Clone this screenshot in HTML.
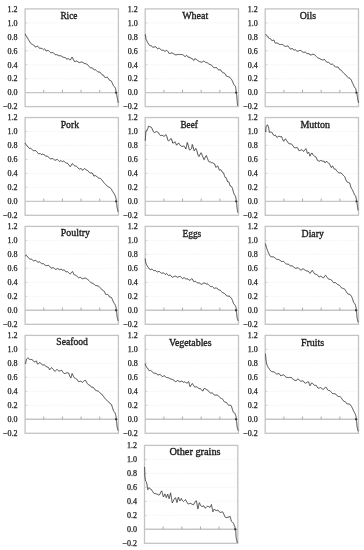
<!DOCTYPE html>
<html><head><meta charset="utf-8"><style>
html,body{margin:0;padding:0;background:#fff;width:364px;height:550px;overflow:hidden}
svg{display:block}
.t{font-family:"Liberation Serif",serif;font-size:8px;fill:#1e1e1e;stroke:#1e1e1e;stroke-width:0.25px}
.h{font-family:"Liberation Serif",serif;font-size:9.5px;fill:#1e1e1e;stroke:#1e1e1e;stroke-width:0.35px}
</style></head><body>
<svg width="364" height="550" viewBox="0 0 364 550">
<rect width="364" height="550" fill="#fff"/>
<line x1="28.10" y1="22.86" x2="117.40" y2="22.86" stroke="#f3f3f3" stroke-width="0.9" stroke-dasharray="1.2 0.9"/>
<line x1="25.10" y1="22.86" x2="27.30" y2="22.86" stroke="#c4c4c4" stroke-width="0.8"/>
<line x1="28.10" y1="36.81" x2="117.40" y2="36.81" stroke="#f3f3f3" stroke-width="0.9" stroke-dasharray="1.2 0.9"/>
<line x1="25.10" y1="36.81" x2="27.30" y2="36.81" stroke="#c4c4c4" stroke-width="0.8"/>
<line x1="28.10" y1="50.77" x2="117.40" y2="50.77" stroke="#f3f3f3" stroke-width="0.9" stroke-dasharray="1.2 0.9"/>
<line x1="25.10" y1="50.77" x2="27.30" y2="50.77" stroke="#c4c4c4" stroke-width="0.8"/>
<line x1="28.10" y1="64.73" x2="117.40" y2="64.73" stroke="#f3f3f3" stroke-width="0.9" stroke-dasharray="1.2 0.9"/>
<line x1="25.10" y1="64.73" x2="27.30" y2="64.73" stroke="#c4c4c4" stroke-width="0.8"/>
<line x1="28.10" y1="78.69" x2="117.40" y2="78.69" stroke="#f3f3f3" stroke-width="0.9" stroke-dasharray="1.2 0.9"/>
<line x1="25.10" y1="78.69" x2="27.30" y2="78.69" stroke="#c4c4c4" stroke-width="0.8"/>
<line x1="25.10" y1="92.64" x2="118.40" y2="92.64" stroke="#c6c6c6" stroke-width="1.4"/>
<line x1="43.76" y1="89.84" x2="43.76" y2="92.64" stroke="#a4a4a4" stroke-width="0.9"/>
<line x1="62.42" y1="89.84" x2="62.42" y2="92.64" stroke="#a4a4a4" stroke-width="0.9"/>
<line x1="81.08" y1="89.84" x2="81.08" y2="92.64" stroke="#a4a4a4" stroke-width="0.9"/>
<line x1="99.74" y1="89.84" x2="99.74" y2="92.64" stroke="#a4a4a4" stroke-width="0.9"/>
<rect x="25.10" y="8.90" width="93.30" height="97.70" fill="none" stroke="#c4c4c4" stroke-width="1.3"/>
<text x="17.60" y="11.70" text-anchor="end" class="t">1.2</text>
<text x="17.60" y="25.66" text-anchor="end" class="t">1.0</text>
<text x="17.60" y="39.61" text-anchor="end" class="t">0.8</text>
<text x="17.60" y="53.57" text-anchor="end" class="t">0.6</text>
<text x="17.60" y="67.53" text-anchor="end" class="t">0.4</text>
<text x="17.60" y="81.49" text-anchor="end" class="t">0.2</text>
<text x="17.60" y="95.44" text-anchor="end" class="t">0.0</text>
<text x="17.60" y="109.40" text-anchor="end" class="t">−0.2</text>
<text x="60.40" y="19.00" class="h" textLength="17.10" lengthAdjust="spacingAndGlyphs">Rice</text>
<path d="M115.25,91.44 L117.55,92.64 L115.25,93.84 Z" fill="#111"/>
<path d="M25.30,33.90 L25.55,34.79 L25.79,35.19 L26.04,35.59 L26.28,35.99 L26.53,36.39 L26.77,36.78 L27.02,37.18 L27.26,37.58 L27.51,37.98 L27.75,38.38 L28.00,38.97 L28.32,39.50 L28.65,40.03 L28.98,40.57 L29.30,41.10 L29.62,41.63 L29.95,42.16 L30.27,42.69 L30.60,43.23 L31.04,43.62 L31.49,43.86 L31.93,44.09 L32.38,44.33 L32.82,44.57 L33.27,44.81 L33.71,45.04 L34.16,45.55 L34.60,46.30 L35.12,46.87 L35.64,46.98 L36.16,46.73 L36.68,46.49 L37.20,46.24 L37.76,46.24 L38.31,46.94 L38.87,47.65 L39.43,48.16 L39.99,48.22 L40.54,48.27 L41.10,48.32 L41.60,48.36 L42.10,48.48 L42.60,48.97 L43.10,49.46 L43.60,49.72 L44.10,49.25 L44.60,48.79 L45.10,49.31 L45.63,50.15 L46.16,50.99 L46.69,51.02 L47.22,50.73 L47.75,50.44 L48.28,50.43 L48.81,50.96 L49.34,51.48 L49.87,52.00 L50.40,52.52 L50.95,52.72 L51.50,52.68 L52.05,52.63 L52.60,52.58 L53.15,52.54 L53.70,53.09 L54.25,53.74 L54.80,54.39 L55.35,54.64 L55.90,54.60 L56.45,54.57 L57.00,54.85 L57.55,55.11 L58.10,55.38 L58.65,55.64 L59.20,55.77 L59.75,55.75 L60.30,55.74 L60.85,55.76 L61.40,56.15 L61.95,56.53 L62.50,56.91 L63.05,57.24 L63.60,57.27 L64.13,57.38 L64.67,57.50 L65.20,57.61 L65.73,57.90 L66.27,58.57 L66.80,59.25 L67.33,58.86 L67.87,58.44 L68.40,58.63 L68.93,59.13 L69.47,59.64 L70.00,60.14 L70.42,59.91 L70.84,59.15 L71.26,58.39 L71.68,57.64 L72.10,57.07 L72.47,57.78 L72.83,58.49 L73.20,59.21 L73.57,59.92 L73.93,60.63 L74.30,61.34 L74.84,61.66 L75.38,61.45 L75.91,61.24 L76.45,61.03 L76.99,61.23 L77.53,61.54 L78.06,61.86 L78.60,62.18 L79.14,62.51 L79.67,62.53 L80.21,62.39 L80.75,62.25 L81.29,62.11 L81.83,61.97 L82.36,62.11 L82.90,62.60 L83.46,62.90 L84.02,63.21 L84.58,63.52 L85.14,63.82 L85.70,63.63 L86.11,63.83 L86.53,64.03 L86.94,64.24 L87.36,64.44 L87.77,64.78 L88.19,65.38 L88.60,65.99 L89.08,66.47 L89.56,66.94 L90.03,67.42 L90.51,67.90 L90.99,68.03 L91.47,67.97 L91.94,67.92 L92.42,67.86 L92.90,68.38 L93.37,69.00 L93.83,69.63 L94.30,69.83 L94.77,69.78 L95.23,69.72 L95.70,69.83 L96.18,70.30 L96.66,70.78 L97.13,71.25 L97.61,71.73 L98.09,71.95 L98.57,72.01 L99.04,72.07 L99.52,72.13 L100.00,72.19 L100.43,72.56 L100.86,73.13 L101.29,73.70 L101.72,74.27 L102.15,74.84 L102.58,75.01 L103.01,75.09 L103.44,75.17 L103.87,75.82 L104.30,76.56 L104.78,77.31 L105.26,77.54 L105.73,77.45 L106.21,77.37 L106.69,77.29 L107.17,77.21 L107.64,77.49 L108.12,78.20 L108.60,78.90 L109.07,79.62 L109.53,80.28 L110.00,80.41 L110.47,80.56 L110.93,80.74 L111.40,81.05 L111.64,81.63 L111.89,82.21 L112.13,82.77 L112.38,83.32 L112.62,83.86 L112.87,84.39 L113.11,84.91 L113.36,85.42 L113.60,85.92 L113.96,86.37 L114.32,86.76 L114.68,87.10 L115.04,87.48 L115.40,87.90 L115.51,88.46 L115.62,89.01 L115.73,89.57 L115.84,90.12 L115.96,90.68 L116.07,91.23 L116.18,91.79 L116.29,92.34 L116.40,92.90 L116.49,93.43 L116.58,93.95 L116.66,94.48 L116.75,95.00 L116.84,95.53 L116.92,96.05 L117.01,96.58 L117.10,97.10 L117.20,97.64 L117.30,98.18 L117.40,98.71 L117.50,99.25 L117.60,99.79 L117.70,100.33 L117.80,100.86 L117.90,101.40 L118.03,101.87 L118.17,102.33 L118.30,102.80" fill="none" stroke="#2e2e2e" stroke-width="0.9" stroke-linejoin="round"/>
<line x1="148.20" y1="22.86" x2="237.50" y2="22.86" stroke="#f3f3f3" stroke-width="0.9" stroke-dasharray="1.2 0.9"/>
<line x1="145.20" y1="22.86" x2="147.40" y2="22.86" stroke="#c4c4c4" stroke-width="0.8"/>
<line x1="148.20" y1="36.81" x2="237.50" y2="36.81" stroke="#f3f3f3" stroke-width="0.9" stroke-dasharray="1.2 0.9"/>
<line x1="145.20" y1="36.81" x2="147.40" y2="36.81" stroke="#c4c4c4" stroke-width="0.8"/>
<line x1="148.20" y1="50.77" x2="237.50" y2="50.77" stroke="#f3f3f3" stroke-width="0.9" stroke-dasharray="1.2 0.9"/>
<line x1="145.20" y1="50.77" x2="147.40" y2="50.77" stroke="#c4c4c4" stroke-width="0.8"/>
<line x1="148.20" y1="64.73" x2="237.50" y2="64.73" stroke="#f3f3f3" stroke-width="0.9" stroke-dasharray="1.2 0.9"/>
<line x1="145.20" y1="64.73" x2="147.40" y2="64.73" stroke="#c4c4c4" stroke-width="0.8"/>
<line x1="148.20" y1="78.69" x2="237.50" y2="78.69" stroke="#f3f3f3" stroke-width="0.9" stroke-dasharray="1.2 0.9"/>
<line x1="145.20" y1="78.69" x2="147.40" y2="78.69" stroke="#c4c4c4" stroke-width="0.8"/>
<line x1="145.20" y1="92.64" x2="238.50" y2="92.64" stroke="#c6c6c6" stroke-width="1.4"/>
<line x1="163.86" y1="89.84" x2="163.86" y2="92.64" stroke="#a4a4a4" stroke-width="0.9"/>
<line x1="182.52" y1="89.84" x2="182.52" y2="92.64" stroke="#a4a4a4" stroke-width="0.9"/>
<line x1="201.18" y1="89.84" x2="201.18" y2="92.64" stroke="#a4a4a4" stroke-width="0.9"/>
<line x1="219.84" y1="89.84" x2="219.84" y2="92.64" stroke="#a4a4a4" stroke-width="0.9"/>
<rect x="145.20" y="8.90" width="93.30" height="97.70" fill="none" stroke="#c4c4c4" stroke-width="1.3"/>
<text x="137.70" y="11.70" text-anchor="end" class="t">1.2</text>
<text x="137.70" y="25.66" text-anchor="end" class="t">1.0</text>
<text x="137.70" y="39.61" text-anchor="end" class="t">0.8</text>
<text x="137.70" y="53.57" text-anchor="end" class="t">0.6</text>
<text x="137.70" y="67.53" text-anchor="end" class="t">0.4</text>
<text x="137.70" y="81.49" text-anchor="end" class="t">0.2</text>
<text x="137.70" y="95.44" text-anchor="end" class="t">0.0</text>
<text x="137.70" y="109.40" text-anchor="end" class="t">−0.2</text>
<text x="182.20" y="19.00" class="h" textLength="26.10" lengthAdjust="spacingAndGlyphs">Wheat</text>
<path d="M235.31,91.44 L237.61,92.64 L235.31,93.84 Z" fill="#111"/>
<path d="M145.25,34.30 L145.32,35.14 L145.40,35.65 L145.47,36.16 L145.55,36.67 L145.62,37.18 L145.70,37.69 L145.78,38.20 L145.85,38.71 L146.05,39.14 L146.25,39.57 L146.45,40.00 L146.65,40.43 L146.85,40.86 L147.05,41.28 L147.25,41.81 L147.61,42.41 L147.97,43.01 L148.34,43.61 L148.70,44.21 L149.06,44.80 L149.43,45.29 L149.79,45.54 L150.15,45.80 L150.69,45.68 L151.22,45.78 L151.76,46.27 L152.30,46.76 L152.84,47.25 L153.38,47.18 L153.91,47.06 L154.45,46.94 L154.99,46.84 L155.53,46.73 L156.06,47.00 L156.60,47.72 L157.14,48.44 L157.68,48.81 L158.21,48.51 L158.75,48.21 L159.22,48.17 L159.68,48.58 L160.15,48.98 L160.62,49.39 L161.08,49.79 L161.55,50.20 L162.03,50.52 L162.52,50.24 L163.00,49.96 L163.48,50.18 L163.97,50.69 L164.45,51.20 L164.87,51.16 L165.29,51.12 L165.71,51.09 L166.13,50.69 L166.55,50.15 L166.82,50.43 L167.10,50.70 L167.38,50.98 L167.65,51.26 L167.93,51.54 L168.20,51.95 L168.47,52.57 L168.75,53.18 L169.31,53.38 L169.87,53.58 L170.43,53.36 L170.99,53.11 L171.55,52.86 L172.03,53.00 L172.52,53.15 L173.00,53.31 L173.48,53.67 L173.97,54.02 L174.45,54.37 L175.01,54.65 L175.57,54.84 L176.13,54.80 L176.69,54.75 L177.25,54.71 L177.83,54.38 L178.41,54.36 L178.99,54.43 L179.57,54.50 L180.15,54.56 L180.69,54.54 L181.22,54.52 L181.76,54.50 L182.30,54.48 L182.84,54.74 L183.38,55.19 L183.91,55.63 L184.45,56.07 L185.01,56.35 L185.57,56.33 L186.13,55.87 L186.69,55.42 L187.25,55.79 L187.66,56.50 L188.08,57.20 L188.49,57.21 L188.91,57.23 L189.32,57.24 L189.74,57.34 L190.15,58.00 L190.68,58.15 L191.20,58.29 L191.72,58.44 L192.25,58.58 L192.50,59.15 L192.75,59.42 L193.00,59.69 L193.25,59.97 L193.50,60.24 L193.75,60.51 L194.06,59.92 L194.38,59.33 L194.69,58.73 L195.00,58.56 L195.54,58.93 L196.07,59.31 L196.61,59.69 L197.15,60.06 L197.56,60.45 L197.96,60.68 L198.37,60.91 L198.78,61.14 L199.19,61.37 L199.59,61.60 L200.00,61.83 L200.53,61.87 L201.06,62.04 L201.59,62.20 L202.12,62.08 L202.66,61.66 L203.19,61.24 L203.72,61.19 L204.25,61.32 L204.73,61.75 L205.21,62.17 L205.68,62.31 L206.16,62.45 L206.64,62.59 L207.12,62.73 L207.59,62.96 L208.07,63.37 L208.55,63.78 L209.03,64.19 L209.51,64.35 L209.98,64.50 L210.46,64.65 L210.94,64.81 L211.42,64.96 L211.89,65.54 L212.37,66.15 L212.85,66.76 L213.33,67.30 L213.81,67.77 L214.28,67.72 L214.76,67.67 L215.24,67.62 L215.72,67.57 L216.19,67.52 L216.67,67.71 L217.15,68.29 L217.66,68.96 L218.18,69.62 L218.69,70.01 L219.21,69.93 L219.72,69.85 L220.24,69.77 L220.75,70.01 L221.18,70.71 L221.60,71.40 L222.03,72.09 L222.45,72.32 L222.88,72.53 L223.30,72.75 L223.72,72.96 L224.15,73.18 L224.57,73.39 L225.00,73.61 L225.44,74.25 L225.89,75.13 L226.33,76.01 L226.78,76.34 L227.22,76.43 L227.66,76.53 L228.11,76.62 L228.55,76.72 L229.03,76.69 L229.52,77.09 L230.00,77.70 L230.48,78.29 L230.97,78.83 L231.45,79.28 L231.64,79.59 L231.83,79.91 L232.02,80.25 L232.21,80.61 L232.40,80.98 L232.60,81.37 L232.79,81.78 L232.98,82.37 L233.17,82.95 L233.36,83.52 L233.55,84.09 L233.93,84.60 L234.31,85.08 L234.69,85.55 L235.07,85.99 L235.45,86.41 L235.54,87.00 L235.63,87.59 L235.72,88.17 L235.81,88.76 L235.90,89.35 L236.00,89.95 L236.09,90.54 L236.18,91.13 L236.27,91.72 L236.36,92.31 L236.45,92.90 L236.51,93.49 L236.57,94.08 L236.62,94.67 L236.68,95.27 L236.74,95.86 L236.80,96.45 L236.86,97.04 L236.92,97.63 L236.98,98.23 L237.03,98.82 L237.09,99.41 L237.15,100.00 L237.19,100.59 L237.23,101.18 L237.27,101.77 L237.31,102.36 L237.35,102.95 L237.39,103.54 L237.43,104.13 L237.47,104.72 L237.51,105.31 L237.55,105.90" fill="none" stroke="#2e2e2e" stroke-width="0.9" stroke-linejoin="round"/>
<line x1="268.20" y1="22.86" x2="357.50" y2="22.86" stroke="#f3f3f3" stroke-width="0.9" stroke-dasharray="1.2 0.9"/>
<line x1="265.20" y1="22.86" x2="267.40" y2="22.86" stroke="#c4c4c4" stroke-width="0.8"/>
<line x1="268.20" y1="36.81" x2="357.50" y2="36.81" stroke="#f3f3f3" stroke-width="0.9" stroke-dasharray="1.2 0.9"/>
<line x1="265.20" y1="36.81" x2="267.40" y2="36.81" stroke="#c4c4c4" stroke-width="0.8"/>
<line x1="268.20" y1="50.77" x2="357.50" y2="50.77" stroke="#f3f3f3" stroke-width="0.9" stroke-dasharray="1.2 0.9"/>
<line x1="265.20" y1="50.77" x2="267.40" y2="50.77" stroke="#c4c4c4" stroke-width="0.8"/>
<line x1="268.20" y1="64.73" x2="357.50" y2="64.73" stroke="#f3f3f3" stroke-width="0.9" stroke-dasharray="1.2 0.9"/>
<line x1="265.20" y1="64.73" x2="267.40" y2="64.73" stroke="#c4c4c4" stroke-width="0.8"/>
<line x1="268.20" y1="78.69" x2="357.50" y2="78.69" stroke="#f3f3f3" stroke-width="0.9" stroke-dasharray="1.2 0.9"/>
<line x1="265.20" y1="78.69" x2="267.40" y2="78.69" stroke="#c4c4c4" stroke-width="0.8"/>
<line x1="265.20" y1="92.64" x2="358.50" y2="92.64" stroke="#c6c6c6" stroke-width="1.4"/>
<line x1="283.86" y1="89.84" x2="283.86" y2="92.64" stroke="#a4a4a4" stroke-width="0.9"/>
<line x1="302.52" y1="89.84" x2="302.52" y2="92.64" stroke="#a4a4a4" stroke-width="0.9"/>
<line x1="321.18" y1="89.84" x2="321.18" y2="92.64" stroke="#a4a4a4" stroke-width="0.9"/>
<line x1="339.84" y1="89.84" x2="339.84" y2="92.64" stroke="#a4a4a4" stroke-width="0.9"/>
<rect x="265.20" y="8.90" width="93.30" height="97.70" fill="none" stroke="#c4c4c4" stroke-width="1.3"/>
<text x="257.70" y="11.70" text-anchor="end" class="t">1.2</text>
<text x="257.70" y="25.66" text-anchor="end" class="t">1.0</text>
<text x="257.70" y="39.61" text-anchor="end" class="t">0.8</text>
<text x="257.70" y="53.57" text-anchor="end" class="t">0.6</text>
<text x="257.70" y="67.53" text-anchor="end" class="t">0.4</text>
<text x="257.70" y="81.49" text-anchor="end" class="t">0.2</text>
<text x="257.70" y="95.44" text-anchor="end" class="t">0.0</text>
<text x="257.70" y="109.40" text-anchor="end" class="t">−0.2</text>
<text x="299.70" y="18.70" class="h" textLength="16.30" lengthAdjust="spacingAndGlyphs">Oils</text>
<path d="M355.57,91.44 L357.87,92.64 L355.57,93.84 Z" fill="#111"/>
<path d="M265.50,34.30 L265.86,34.85 L266.21,35.06 L266.57,35.28 L266.92,35.49 L267.28,35.70 L267.63,36.10 L267.99,36.77 L268.34,37.44 L268.70,38.11 L269.18,38.41 L269.67,38.40 L270.15,38.39 L270.63,38.76 L271.12,39.55 L271.60,40.34 L272.08,40.70 L272.56,40.50 L273.03,40.31 L273.51,40.11 L273.99,40.17 L274.47,41.46 L274.94,42.75 L275.42,43.25 L275.90,43.17 L276.43,42.90 L276.95,42.86 L277.48,43.17 L278.00,43.48 L278.52,43.79 L279.05,44.10 L279.57,44.40 L280.10,44.55 L280.64,44.51 L281.18,44.47 L281.71,44.42 L282.25,44.40 L282.79,44.78 L283.32,45.15 L283.86,45.53 L284.40,45.90 L284.88,46.32 L285.36,46.46 L285.83,46.37 L286.31,46.27 L286.79,46.17 L287.27,46.07 L287.74,45.97 L288.22,46.28 L288.70,46.97 L289.24,47.64 L289.77,48.30 L290.31,48.97 L290.85,49.24 L291.39,48.88 L291.93,48.51 L292.46,48.50 L293.00,49.17 L293.54,49.85 L294.07,50.14 L294.61,49.85 L295.15,49.56 L295.69,50.03 L296.23,50.51 L296.76,50.99 L297.30,51.30 L297.84,51.11 L298.38,50.92 L298.91,50.73 L299.45,50.54 L299.99,50.35 L300.52,50.42 L301.06,50.77 L301.60,51.12 L302.14,51.57 L302.68,52.02 L303.21,52.31 L303.75,52.28 L304.29,52.24 L304.82,52.20 L305.36,52.16 L305.90,52.57 L306.43,53.22 L306.95,53.76 L307.48,53.71 L308.00,53.66 L308.52,53.61 L309.05,53.55 L309.57,54.00 L310.10,54.84 L310.50,54.94 L310.90,55.04 L311.30,55.11 L311.70,54.64 L312.10,54.17 L312.61,54.27 L313.13,54.37 L313.64,54.47 L314.16,54.58 L314.67,54.83 L315.19,55.28 L315.70,55.74 L316.13,56.24 L316.56,56.73 L316.99,57.22 L317.42,57.60 L317.85,57.77 L318.28,57.95 L318.71,58.12 L319.14,58.30 L319.57,58.47 L320.00,58.92 L320.54,59.14 L321.07,59.35 L321.61,59.57 L322.15,59.79 L322.69,60.00 L323.23,59.85 L323.76,59.65 L324.30,59.44 L324.78,59.68 L325.26,60.29 L325.73,60.91 L326.21,61.52 L326.69,62.13 L327.17,62.27 L327.64,62.31 L328.12,62.35 L328.60,62.45 L329.14,62.90 L329.68,63.34 L330.21,63.79 L330.75,64.24 L331.29,64.37 L331.82,64.23 L332.36,64.08 L332.90,64.46 L333.43,64.98 L333.95,65.49 L334.48,66.01 L335.00,66.52 L335.52,67.04 L336.05,67.08 L336.57,67.02 L337.10,66.95 L337.55,67.03 L338.00,67.11 L338.45,67.36 L338.90,68.24 L339.35,69.12 L339.80,69.65 L340.25,69.81 L340.70,69.97 L341.09,70.18 L341.48,70.61 L341.87,71.06 L342.26,71.51 L342.65,71.97 L343.05,72.42 L343.44,72.87 L343.83,73.32 L344.22,73.69 L344.61,73.95 L345.00,74.20 L345.40,74.46 L345.80,74.81 L346.20,75.36 L346.60,75.91 L347.00,76.45 L347.40,77.00 L347.80,77.31 L348.20,77.57 L348.60,77.83 L349.07,78.01 L349.53,78.20 L350.00,78.38 L350.47,78.95 L350.93,79.58 L351.40,80.17 L351.62,80.81 L351.85,81.44 L352.07,82.06 L352.29,82.49 L352.52,82.93 L352.74,83.38 L352.96,83.84 L353.18,84.31 L353.41,84.80 L353.63,85.29 L353.85,85.80 L354.08,86.32 L354.30,86.90 L354.65,87.37 L355.00,87.82 L355.35,88.23 L355.70,88.61 L355.83,89.16 L355.97,89.71 L356.10,90.27 L356.23,90.82 L356.37,91.38 L356.50,91.93 L356.63,92.49 L356.77,93.04 L356.90,93.60 L356.99,94.18 L357.08,94.76 L357.17,95.35 L357.26,95.93 L357.35,96.51 L357.45,97.09 L357.54,97.67 L357.63,98.25 L357.72,98.84 L357.81,99.42 L357.90,100.00 L358.04,100.58 L358.18,101.16 L358.32,101.74 L358.46,102.32 L358.60,102.90" fill="none" stroke="#2e2e2e" stroke-width="0.9" stroke-linejoin="round"/>
<line x1="28.10" y1="131.51" x2="117.40" y2="131.51" stroke="#f3f3f3" stroke-width="0.9" stroke-dasharray="1.2 0.9"/>
<line x1="25.10" y1="131.51" x2="27.30" y2="131.51" stroke="#c4c4c4" stroke-width="0.8"/>
<line x1="28.10" y1="145.48" x2="117.40" y2="145.48" stroke="#f3f3f3" stroke-width="0.9" stroke-dasharray="1.2 0.9"/>
<line x1="25.10" y1="145.48" x2="27.30" y2="145.48" stroke="#c4c4c4" stroke-width="0.8"/>
<line x1="28.10" y1="159.44" x2="117.40" y2="159.44" stroke="#f3f3f3" stroke-width="0.9" stroke-dasharray="1.2 0.9"/>
<line x1="25.10" y1="159.44" x2="27.30" y2="159.44" stroke="#c4c4c4" stroke-width="0.8"/>
<line x1="28.10" y1="173.41" x2="117.40" y2="173.41" stroke="#f3f3f3" stroke-width="0.9" stroke-dasharray="1.2 0.9"/>
<line x1="25.10" y1="173.41" x2="27.30" y2="173.41" stroke="#c4c4c4" stroke-width="0.8"/>
<line x1="28.10" y1="187.37" x2="117.40" y2="187.37" stroke="#f3f3f3" stroke-width="0.9" stroke-dasharray="1.2 0.9"/>
<line x1="25.10" y1="187.37" x2="27.30" y2="187.37" stroke="#c4c4c4" stroke-width="0.8"/>
<line x1="25.10" y1="201.34" x2="118.40" y2="201.34" stroke="#c6c6c6" stroke-width="1.4"/>
<line x1="43.76" y1="198.54" x2="43.76" y2="201.34" stroke="#a4a4a4" stroke-width="0.9"/>
<line x1="62.42" y1="198.54" x2="62.42" y2="201.34" stroke="#a4a4a4" stroke-width="0.9"/>
<line x1="81.08" y1="198.54" x2="81.08" y2="201.34" stroke="#a4a4a4" stroke-width="0.9"/>
<line x1="99.74" y1="198.54" x2="99.74" y2="201.34" stroke="#a4a4a4" stroke-width="0.9"/>
<rect x="25.10" y="117.55" width="93.30" height="97.75" fill="none" stroke="#c4c4c4" stroke-width="1.3"/>
<text x="17.60" y="120.35" text-anchor="end" class="t">1.2</text>
<text x="17.60" y="134.31" text-anchor="end" class="t">1.0</text>
<text x="17.60" y="148.28" text-anchor="end" class="t">0.8</text>
<text x="17.60" y="162.24" text-anchor="end" class="t">0.6</text>
<text x="17.60" y="176.21" text-anchor="end" class="t">0.4</text>
<text x="17.60" y="190.17" text-anchor="end" class="t">0.2</text>
<text x="17.60" y="204.14" text-anchor="end" class="t">0.0</text>
<text x="17.60" y="218.10" text-anchor="end" class="t">−0.2</text>
<text x="60.70" y="127.90" class="h" textLength="18.40" lengthAdjust="spacingAndGlyphs">Pork</text>
<path d="M115.32,200.14 L117.62,201.34 L115.32,202.54 Z" fill="#111"/>
<path d="M25.10,142.90 L25.41,143.78 L25.73,144.19 L26.04,144.61 L26.36,145.02 L26.67,145.43 L26.99,145.84 L27.30,146.25 L27.77,146.49 L28.23,147.01 L28.70,147.67 L29.17,148.33 L29.63,148.39 L30.10,148.43 L30.64,148.32 L31.18,148.74 L31.71,149.22 L32.25,149.71 L32.79,150.19 L33.33,150.63 L33.86,150.64 L34.40,150.65 L34.88,150.65 L35.37,150.66 L35.85,150.66 L36.33,151.19 L36.82,151.74 L37.30,152.28 L37.77,152.84 L38.23,153.39 L38.70,153.94 L39.17,153.79 L39.63,153.56 L40.10,153.35 L40.64,153.87 L41.17,154.40 L41.71,154.60 L42.25,154.29 L42.79,154.00 L43.33,154.32 L43.86,154.63 L44.40,154.95 L44.94,155.36 L45.47,155.77 L46.01,156.05 L46.55,156.14 L47.09,156.22 L47.62,156.40 L48.16,156.87 L48.70,157.34 L49.18,157.78 L49.66,158.21 L50.13,158.64 L50.61,158.79 L51.09,158.74 L51.57,158.69 L52.04,158.63 L52.52,158.58 L53.00,158.58 L53.54,159.12 L54.08,159.66 L54.61,160.21 L55.15,160.27 L55.69,160.04 L56.22,159.81 L56.76,159.57 L57.30,159.46 L57.84,159.99 L58.38,160.52 L58.91,161.05 L59.45,161.38 L59.99,161.10 L60.52,160.81 L61.06,160.53 L61.60,160.93 L62.14,161.49 L62.67,161.72 L63.21,161.34 L63.75,161.01 L64.29,161.50 L64.83,161.99 L65.36,162.48 L65.90,162.97 L66.32,163.17 L66.74,163.21 L67.16,163.25 L67.58,163.28 L68.00,163.81 L68.42,164.38 L68.84,164.94 L69.26,165.50 L69.68,166.06 L70.10,166.62 L70.47,166.45 L70.83,165.88 L71.20,165.29 L71.57,164.71 L71.93,164.12 L72.30,163.53 L72.70,163.79 L73.10,164.30 L73.50,164.82 L73.90,165.33 L74.30,165.62 L74.78,165.78 L75.26,165.94 L75.73,166.09 L76.21,166.25 L76.69,166.41 L77.17,166.83 L77.64,167.41 L78.12,167.99 L78.60,168.57 L79.14,169.03 L79.67,169.07 L80.21,168.82 L80.75,168.57 L81.29,168.64 L81.83,169.34 L82.36,170.04 L82.90,170.32 L83.46,169.62 L84.02,168.92 L84.58,168.51 L85.14,169.00 L85.70,169.49 L86.11,169.83 L86.53,170.04 L86.94,170.25 L87.36,170.46 L87.77,170.67 L88.19,170.89 L88.60,171.54 L89.08,172.13 L89.56,172.72 L90.03,173.17 L90.51,173.08 L90.99,172.98 L91.47,172.88 L91.94,172.79 L92.42,173.11 L92.90,174.11 L93.43,175.14 L93.95,176.15 L94.47,175.87 L95.00,175.58 L95.53,175.61 L96.05,176.02 L96.57,176.43 L97.10,176.84 L97.61,177.27 L98.13,177.71 L98.64,177.98 L99.16,178.15 L99.67,178.33 L100.19,178.51 L100.70,178.68 L101.11,179.03 L101.53,179.56 L101.94,180.08 L102.36,180.61 L102.77,181.14 L103.19,181.66 L103.60,182.19 L103.95,182.73 L104.30,183.10 L104.65,183.48 L105.00,183.85 L105.35,184.22 L105.70,184.60 L106.11,184.80 L106.53,185.16 L106.94,185.59 L107.36,186.01 L107.77,186.44 L108.19,186.86 L108.60,187.06 L109.07,187.23 L109.53,187.40 L110.00,187.60 L110.47,188.13 L110.93,188.63 L111.40,189.11 L111.64,189.64 L111.89,190.17 L112.13,190.68 L112.38,191.07 L112.62,191.42 L112.87,191.80 L113.11,192.19 L113.36,192.60 L113.60,193.03 L113.88,193.41 L114.16,193.83 L114.44,194.28 L114.72,194.80 L115.00,195.31 L115.17,195.83 L115.33,196.34 L115.50,196.85 L115.67,197.33 L115.83,197.82 L116.00,198.30 L116.08,198.84 L116.15,199.38 L116.22,199.91 L116.30,200.45 L116.38,200.99 L116.45,201.52 L116.52,202.06 L116.60,202.60 L116.66,203.16 L116.71,203.71 L116.77,204.27 L116.82,204.82 L116.88,205.38 L116.93,205.93 L116.99,206.49 L117.04,207.04 L117.10,207.60 L117.22,208.14 L117.35,208.68 L117.47,209.21 L117.60,209.75 L117.72,210.29 L117.85,210.82 L117.97,211.36 L118.10,211.90" fill="none" stroke="#2e2e2e" stroke-width="0.9" stroke-linejoin="round"/>
<line x1="148.20" y1="131.51" x2="237.50" y2="131.51" stroke="#f3f3f3" stroke-width="0.9" stroke-dasharray="1.2 0.9"/>
<line x1="145.20" y1="131.51" x2="147.40" y2="131.51" stroke="#c4c4c4" stroke-width="0.8"/>
<line x1="148.20" y1="145.48" x2="237.50" y2="145.48" stroke="#f3f3f3" stroke-width="0.9" stroke-dasharray="1.2 0.9"/>
<line x1="145.20" y1="145.48" x2="147.40" y2="145.48" stroke="#c4c4c4" stroke-width="0.8"/>
<line x1="148.20" y1="159.44" x2="237.50" y2="159.44" stroke="#f3f3f3" stroke-width="0.9" stroke-dasharray="1.2 0.9"/>
<line x1="145.20" y1="159.44" x2="147.40" y2="159.44" stroke="#c4c4c4" stroke-width="0.8"/>
<line x1="148.20" y1="173.41" x2="237.50" y2="173.41" stroke="#f3f3f3" stroke-width="0.9" stroke-dasharray="1.2 0.9"/>
<line x1="145.20" y1="173.41" x2="147.40" y2="173.41" stroke="#c4c4c4" stroke-width="0.8"/>
<line x1="148.20" y1="187.37" x2="237.50" y2="187.37" stroke="#f3f3f3" stroke-width="0.9" stroke-dasharray="1.2 0.9"/>
<line x1="145.20" y1="187.37" x2="147.40" y2="187.37" stroke="#c4c4c4" stroke-width="0.8"/>
<line x1="145.20" y1="201.34" x2="238.50" y2="201.34" stroke="#c6c6c6" stroke-width="1.4"/>
<line x1="163.86" y1="198.54" x2="163.86" y2="201.34" stroke="#a4a4a4" stroke-width="0.9"/>
<line x1="182.52" y1="198.54" x2="182.52" y2="201.34" stroke="#a4a4a4" stroke-width="0.9"/>
<line x1="201.18" y1="198.54" x2="201.18" y2="201.34" stroke="#a4a4a4" stroke-width="0.9"/>
<line x1="219.84" y1="198.54" x2="219.84" y2="201.34" stroke="#a4a4a4" stroke-width="0.9"/>
<rect x="145.20" y="117.55" width="93.30" height="97.75" fill="none" stroke="#c4c4c4" stroke-width="1.3"/>
<text x="137.70" y="120.35" text-anchor="end" class="t">1.2</text>
<text x="137.70" y="134.31" text-anchor="end" class="t">1.0</text>
<text x="137.70" y="148.28" text-anchor="end" class="t">0.8</text>
<text x="137.70" y="162.24" text-anchor="end" class="t">0.6</text>
<text x="137.70" y="176.21" text-anchor="end" class="t">0.4</text>
<text x="137.70" y="190.17" text-anchor="end" class="t">0.2</text>
<text x="137.70" y="204.14" text-anchor="end" class="t">0.0</text>
<text x="137.70" y="218.10" text-anchor="end" class="t">−0.2</text>
<text x="180.40" y="128.00" class="h" textLength="17.40" lengthAdjust="spacingAndGlyphs">Beef</text>
<path d="M235.40,200.14 L237.70,201.34 L235.40,202.54 Z" fill="#111"/>
<path d="M145.25,140.70 L145.29,140.54 L145.33,139.91 L145.37,139.28 L145.41,138.66 L145.45,138.03 L145.49,137.40 L145.53,136.77 L145.57,136.14 L145.61,135.52 L145.65,134.89 L145.69,134.26 L145.73,133.63 L145.77,133.00 L145.81,132.38 L145.85,131.75 L146.23,130.86 L146.62,130.37 L147.00,130.69 L147.12,130.35 L147.24,130.01 L147.36,129.66 L147.48,129.32 L147.60,128.98 L147.72,128.64 L147.85,128.29 L147.97,127.95 L148.09,127.61 L148.21,127.27 L148.33,126.77 L148.45,126.11 L148.79,126.26 L149.13,126.41 L149.47,126.55 L149.81,126.70 L150.15,126.84 L150.50,126.93 L150.85,127.01 L151.20,127.10 L151.55,127.69 L151.90,128.34 L152.25,128.98 L152.56,129.74 L152.88,130.49 L153.19,131.24 L153.51,131.93 L153.82,132.15 L154.14,132.37 L154.45,132.59 L154.97,132.32 L155.50,132.06 L156.03,131.79 L156.55,131.52 L157.10,131.76 L157.65,132.14 L158.20,132.52 L158.75,132.91 L159.01,133.72 L159.28,134.36 L159.54,134.62 L159.80,134.88 L160.06,135.14 L160.32,135.40 L160.59,135.66 L160.85,135.92 L161.43,135.16 L162.01,135.14 L162.59,135.49 L163.17,135.84 L163.75,136.19 L164.31,136.07 L164.87,135.60 L165.43,135.12 L165.99,134.64 L166.55,135.61 L166.79,136.45 L167.04,137.29 L167.28,138.12 L167.53,138.96 L167.77,139.80 L168.02,140.40 L168.26,140.65 L168.51,140.90 L168.75,141.14 L169.31,140.47 L169.87,139.80 L170.43,139.13 L170.99,138.46 L171.55,139.06 L171.84,140.07 L172.13,141.08 L172.42,142.09 L172.71,143.10 L173.00,143.03 L173.29,142.92 L173.58,142.82 L173.87,142.71 L174.16,142.61 L174.45,142.51 L174.92,141.71 L175.38,142.68 L175.85,143.65 L176.32,144.62 L176.78,145.19 L177.25,144.10 L177.66,143.83 L178.08,143.57 L178.49,143.31 L178.91,143.24 L179.32,143.94 L179.74,144.63 L180.15,145.33 L180.72,145.74 L181.29,146.14 L181.86,146.55 L182.43,146.35 L183.00,145.92 L183.41,146.03 L183.81,146.14 L184.22,146.25 L184.63,146.73 L185.04,147.50 L185.44,148.27 L185.85,149.03 L185.99,148.47 L186.13,147.81 L186.27,147.15 L186.41,146.49 L186.55,145.82 L186.69,145.16 L186.83,144.50 L186.97,143.84 L187.11,143.18 L187.25,142.52 L187.43,142.95 L187.62,143.38 L187.80,143.97 L187.98,144.64 L188.17,145.31 L188.35,145.97 L188.53,146.64 L188.72,147.31 L188.90,147.97 L189.08,148.64 L189.27,149.31 L189.45,149.97 L189.87,150.13 L190.29,149.74 L190.71,149.35 L191.13,148.96 L191.55,148.57 L191.67,147.90 L191.78,147.23 L191.90,146.55 L192.02,145.88 L192.13,145.20 L192.25,144.53 L192.62,145.45 L192.98,146.78 L193.35,148.11 L193.72,149.43 L194.08,150.76 L194.45,150.65 L194.83,150.00 L195.22,149.35 L195.60,148.69 L195.98,148.50 L196.37,149.44 L196.75,150.39 L196.99,151.26 L197.24,152.13 L197.48,153.00 L197.73,153.87 L197.97,154.74 L198.22,155.51 L198.46,155.87 L198.71,156.22 L198.95,156.58 L199.26,155.96 L199.58,155.35 L199.89,154.73 L200.21,154.12 L200.52,153.51 L200.84,152.94 L201.15,152.74 L201.42,153.41 L201.70,154.08 L201.97,154.75 L202.24,155.42 L202.51,156.09 L202.79,156.76 L203.06,157.43 L203.33,158.10 L203.60,158.77 L203.88,159.44 L204.15,159.66 L204.46,158.96 L204.78,158.26 L205.09,157.56 L205.41,156.86 L205.72,156.16 L206.04,155.77 L206.35,155.55 L206.60,156.20 L206.85,156.85 L207.10,157.49 L207.35,158.14 L207.60,158.78 L207.85,159.43 L208.10,160.08 L208.35,160.72 L208.60,161.37 L208.85,161.63 L209.10,161.84 L209.35,162.06 L209.85,161.63 L210.35,161.68 L210.85,162.17 L211.35,162.66 L211.85,163.02 L212.35,162.70 L212.66,162.85 L212.98,162.99 L213.29,163.14 L213.61,163.28 L213.92,163.43 L214.24,163.58 L214.55,163.96 L215.05,165.27 L215.55,166.59 L216.05,167.41 L216.55,166.87 L217.05,166.32 L217.55,165.78 L217.92,166.44 L218.29,167.37 L218.66,168.31 L219.03,169.24 L219.40,170.17 L219.77,170.26 L220.14,170.09 L220.51,169.92 L220.88,169.76 L221.25,170.18 L221.71,170.95 L222.17,171.72 L222.63,172.49 L223.09,173.17 L223.55,172.90 L223.69,173.31 L223.82,173.72 L223.96,174.13 L224.10,174.55 L224.23,174.96 L224.37,175.37 L224.50,175.78 L224.64,176.19 L224.78,176.60 L224.91,177.01 L225.05,177.42 L225.42,177.51 L225.78,177.61 L226.15,177.71 L226.52,178.67 L226.88,179.69 L227.25,180.72 L227.62,181.75 L227.98,181.78 L228.35,181.81 L228.72,181.84 L229.08,182.59 L229.45,183.71 L229.74,184.72 L230.03,185.73 L230.31,185.93 L230.60,186.03 L230.89,186.17 L231.18,186.34 L231.46,186.55 L231.75,186.79 L231.93,187.22 L232.12,187.66 L232.30,188.12 L232.48,188.59 L232.67,189.18 L232.85,189.88 L233.03,190.56 L233.22,191.23 L233.40,191.89 L233.58,192.54 L233.77,193.18 L233.95,193.81 L234.25,194.34 L234.55,194.84 L234.85,195.31 L235.15,195.73 L235.45,196.12 L235.57,196.69 L235.68,197.26 L235.80,197.83 L235.92,198.41 L236.03,198.99 L236.15,199.57 L236.27,200.14 L236.38,200.72 L236.50,201.30 L236.55,201.88 L236.60,202.46 L236.65,203.03 L236.70,203.61 L236.75,204.19 L236.80,204.77 L236.85,205.34 L236.90,205.92 L236.95,206.50 L237.01,207.05 L237.08,207.59 L237.14,208.14 L237.20,208.68 L237.27,209.23 L237.33,209.77 L237.40,210.32 L237.46,210.86 L237.52,211.41 L237.59,211.95 L237.65,212.50" fill="none" stroke="#2e2e2e" stroke-width="0.9" stroke-linejoin="round"/>
<line x1="268.20" y1="131.51" x2="357.50" y2="131.51" stroke="#f3f3f3" stroke-width="0.9" stroke-dasharray="1.2 0.9"/>
<line x1="265.20" y1="131.51" x2="267.40" y2="131.51" stroke="#c4c4c4" stroke-width="0.8"/>
<line x1="268.20" y1="145.48" x2="357.50" y2="145.48" stroke="#f3f3f3" stroke-width="0.9" stroke-dasharray="1.2 0.9"/>
<line x1="265.20" y1="145.48" x2="267.40" y2="145.48" stroke="#c4c4c4" stroke-width="0.8"/>
<line x1="268.20" y1="159.44" x2="357.50" y2="159.44" stroke="#f3f3f3" stroke-width="0.9" stroke-dasharray="1.2 0.9"/>
<line x1="265.20" y1="159.44" x2="267.40" y2="159.44" stroke="#c4c4c4" stroke-width="0.8"/>
<line x1="268.20" y1="173.41" x2="357.50" y2="173.41" stroke="#f3f3f3" stroke-width="0.9" stroke-dasharray="1.2 0.9"/>
<line x1="265.20" y1="173.41" x2="267.40" y2="173.41" stroke="#c4c4c4" stroke-width="0.8"/>
<line x1="268.20" y1="187.37" x2="357.50" y2="187.37" stroke="#f3f3f3" stroke-width="0.9" stroke-dasharray="1.2 0.9"/>
<line x1="265.20" y1="187.37" x2="267.40" y2="187.37" stroke="#c4c4c4" stroke-width="0.8"/>
<line x1="265.20" y1="201.34" x2="358.50" y2="201.34" stroke="#c6c6c6" stroke-width="1.4"/>
<line x1="283.86" y1="198.54" x2="283.86" y2="201.34" stroke="#a4a4a4" stroke-width="0.9"/>
<line x1="302.52" y1="198.54" x2="302.52" y2="201.34" stroke="#a4a4a4" stroke-width="0.9"/>
<line x1="321.18" y1="198.54" x2="321.18" y2="201.34" stroke="#a4a4a4" stroke-width="0.9"/>
<line x1="339.84" y1="198.54" x2="339.84" y2="201.34" stroke="#a4a4a4" stroke-width="0.9"/>
<rect x="265.20" y="117.55" width="93.30" height="97.75" fill="none" stroke="#c4c4c4" stroke-width="1.3"/>
<text x="257.70" y="120.35" text-anchor="end" class="t">1.2</text>
<text x="257.70" y="134.31" text-anchor="end" class="t">1.0</text>
<text x="257.70" y="148.28" text-anchor="end" class="t">0.8</text>
<text x="257.70" y="162.24" text-anchor="end" class="t">0.6</text>
<text x="257.70" y="176.21" text-anchor="end" class="t">0.4</text>
<text x="257.70" y="190.17" text-anchor="end" class="t">0.2</text>
<text x="257.70" y="204.14" text-anchor="end" class="t">0.0</text>
<text x="257.70" y="218.10" text-anchor="end" class="t">−0.2</text>
<text x="300.50" y="128.00" class="h" textLength="29.40" lengthAdjust="spacingAndGlyphs">Mutton</text>
<path d="M355.68,200.14 L357.98,201.34 L355.68,202.54 Z" fill="#111"/>
<path d="M265.60,130.70 L265.66,131.57 L265.71,130.96 L265.77,130.35 L265.82,129.74 L265.88,129.12 L265.93,128.51 L265.99,127.90 L266.04,127.29 L266.10,126.68 L266.50,126.05 L266.90,125.42 L267.30,124.79 L267.58,124.93 L267.86,125.60 L268.14,126.35 L268.42,127.10 L268.70,127.85 L268.79,128.49 L268.88,129.13 L268.96,129.77 L269.05,130.41 L269.14,131.04 L269.23,131.50 L269.31,131.97 L269.40,132.43 L269.90,132.26 L270.40,132.08 L270.90,131.90 L271.25,131.99 L271.60,132.08 L271.95,132.46 L272.30,133.06 L272.72,133.77 L273.14,134.47 L273.56,135.17 L273.98,135.48 L274.40,135.46 L274.84,135.28 L275.28,135.10 L275.72,135.41 L276.16,136.25 L276.60,137.10 L277.12,137.25 L277.65,136.95 L278.18,136.65 L278.70,136.35 L279.25,136.40 L279.80,136.44 L280.35,136.64 L280.90,136.99 L281.25,136.75 L281.60,136.52 L281.81,137.08 L282.02,137.65 L282.23,138.22 L282.44,138.79 L282.65,139.35 L282.86,139.87 L283.07,140.23 L283.28,140.59 L283.49,140.95 L283.70,141.31 L284.05,140.73 L284.40,140.15 L284.75,139.57 L285.10,138.99 L285.48,139.09 L285.85,139.29 L286.23,139.90 L286.60,140.50 L287.02,141.09 L287.44,141.68 L287.86,142.27 L288.28,142.87 L288.70,143.46 L289.18,143.69 L289.67,143.75 L290.15,143.80 L290.63,143.86 L291.12,143.91 L291.60,143.97 L292.07,144.57 L292.53,145.23 L293.00,145.88 L293.47,146.54 L293.93,147.19 L294.40,147.81 L294.81,147.78 L295.23,147.75 L295.64,147.71 L296.06,147.68 L296.47,147.65 L296.89,147.62 L297.30,147.58 L297.77,148.13 L298.23,149.23 L298.70,150.33 L299.17,150.81 L299.63,150.62 L300.10,150.42 L300.58,150.20 L301.07,149.99 L301.55,149.78 L302.03,149.82 L302.52,150.49 L303.00,151.16 L303.48,151.24 L303.97,151.19 L304.45,150.56 L304.93,149.92 L305.42,149.28 L305.90,148.65 L306.07,149.08 L306.25,149.52 L306.43,149.95 L306.60,150.38 L306.77,151.06 L306.95,151.78 L307.12,152.50 L307.30,153.22 L307.65,153.20 L308.00,153.19 L308.35,152.81 L308.70,152.22 L308.84,152.66 L308.99,153.10 L309.13,153.55 L309.28,153.99 L309.42,154.43 L309.57,154.88 L309.71,155.32 L309.86,155.76 L310.00,156.20 L310.30,155.50 L310.60,154.80 L310.90,154.10 L311.20,153.53 L311.50,153.38 L311.80,153.23 L312.10,153.08 L312.47,153.99 L312.83,154.69 L313.20,155.05 L313.57,155.41 L313.93,155.77 L314.30,156.13 L314.72,156.31 L315.14,156.48 L315.56,156.66 L315.98,157.05 L316.40,157.84 L316.76,158.70 L317.12,159.57 L317.49,160.40 L317.85,160.58 L318.21,160.76 L318.57,160.94 L318.94,161.13 L319.30,161.31 L319.86,160.77 L320.42,160.52 L320.98,160.63 L321.54,160.74 L322.10,160.86 L322.51,161.08 L322.93,161.13 L323.34,161.18 L323.76,161.23 L324.17,161.29 L324.59,161.90 L325.00,162.96 L325.20,162.76 L325.40,162.56 L325.60,162.36 L325.80,162.16 L326.00,161.96 L326.20,161.75 L326.40,161.05 L326.64,161.31 L326.89,161.57 L327.13,161.83 L327.38,162.09 L327.62,162.35 L327.87,162.60 L328.11,162.86 L328.36,163.12 L328.60,163.38 L329.00,163.44 L329.40,163.65 L329.80,164.55 L330.20,165.46 L330.60,166.36 L331.00,167.26 L331.40,167.54 L331.88,166.71 L332.37,165.87 L332.85,166.32 L333.33,167.34 L333.82,168.37 L334.30,169.10 L334.72,169.10 L335.14,169.09 L335.56,169.13 L335.98,169.78 L336.40,170.43 L336.85,170.95 L337.30,171.47 L337.75,171.99 L338.20,172.51 L338.65,172.83 L339.10,172.85 L339.55,172.86 L340.00,172.88 L340.51,172.88 L341.03,172.88 L341.54,173.37 L342.06,173.98 L342.57,174.59 L343.09,175.20 L343.60,175.55 L343.81,175.76 L344.02,175.97 L344.23,176.18 L344.44,176.39 L344.65,176.60 L344.86,176.81 L345.07,177.36 L345.28,178.06 L345.49,178.76 L345.70,179.46 L346.07,180.18 L346.43,180.90 L346.80,181.62 L347.17,182.10 L347.53,182.18 L347.90,182.26 L348.32,182.36 L348.74,182.46 L349.16,182.55 L349.58,182.93 L350.00,183.90 L350.21,184.67 L350.42,185.44 L350.63,186.20 L350.84,186.93 L351.05,187.64 L351.26,188.12 L351.47,188.41 L351.68,188.71 L351.89,189.03 L352.10,189.36 L352.30,189.73 L352.50,190.12 L352.70,190.52 L352.90,190.93 L353.10,191.36 L353.30,191.80 L353.50,192.26 L353.70,192.72 L353.90,193.21 L354.10,193.70 L354.30,194.32 L354.65,194.83 L355.00,195.29 L355.35,195.72 L355.70,196.10 L355.82,196.68 L355.94,197.26 L356.06,197.84 L356.18,198.42 L356.30,199.00 L356.42,199.58 L356.54,200.16 L356.66,200.74 L356.78,201.32 L356.90,201.90 L356.96,202.43 L357.02,202.95 L357.09,203.47 L357.15,204.00 L357.21,204.53 L357.27,205.05 L357.34,205.57 L357.40,206.10 L357.49,206.64 L357.57,207.18 L357.66,207.71 L357.75,208.25 L357.84,208.79 L357.93,209.32 L358.01,209.86 L358.10,210.40" fill="none" stroke="#2e2e2e" stroke-width="0.9" stroke-linejoin="round"/>
<line x1="28.10" y1="240.39" x2="117.40" y2="240.39" stroke="#f3f3f3" stroke-width="0.9" stroke-dasharray="1.2 0.9"/>
<line x1="25.10" y1="240.39" x2="27.30" y2="240.39" stroke="#c4c4c4" stroke-width="0.8"/>
<line x1="28.10" y1="254.37" x2="117.40" y2="254.37" stroke="#f3f3f3" stroke-width="0.9" stroke-dasharray="1.2 0.9"/>
<line x1="25.10" y1="254.37" x2="27.30" y2="254.37" stroke="#c4c4c4" stroke-width="0.8"/>
<line x1="28.10" y1="268.36" x2="117.40" y2="268.36" stroke="#f3f3f3" stroke-width="0.9" stroke-dasharray="1.2 0.9"/>
<line x1="25.10" y1="268.36" x2="27.30" y2="268.36" stroke="#c4c4c4" stroke-width="0.8"/>
<line x1="28.10" y1="282.34" x2="117.40" y2="282.34" stroke="#f3f3f3" stroke-width="0.9" stroke-dasharray="1.2 0.9"/>
<line x1="25.10" y1="282.34" x2="27.30" y2="282.34" stroke="#c4c4c4" stroke-width="0.8"/>
<line x1="28.10" y1="296.33" x2="117.40" y2="296.33" stroke="#f3f3f3" stroke-width="0.9" stroke-dasharray="1.2 0.9"/>
<line x1="25.10" y1="296.33" x2="27.30" y2="296.33" stroke="#c4c4c4" stroke-width="0.8"/>
<line x1="25.10" y1="310.31" x2="118.40" y2="310.31" stroke="#c6c6c6" stroke-width="1.4"/>
<line x1="43.76" y1="307.51" x2="43.76" y2="310.31" stroke="#a4a4a4" stroke-width="0.9"/>
<line x1="62.42" y1="307.51" x2="62.42" y2="310.31" stroke="#a4a4a4" stroke-width="0.9"/>
<line x1="81.08" y1="307.51" x2="81.08" y2="310.31" stroke="#a4a4a4" stroke-width="0.9"/>
<line x1="99.74" y1="307.51" x2="99.74" y2="310.31" stroke="#a4a4a4" stroke-width="0.9"/>
<rect x="25.10" y="226.40" width="93.30" height="97.90" fill="none" stroke="#c4c4c4" stroke-width="1.3"/>
<text x="17.60" y="229.20" text-anchor="end" class="t">1.2</text>
<text x="17.60" y="243.19" text-anchor="end" class="t">1.0</text>
<text x="17.60" y="257.17" text-anchor="end" class="t">0.8</text>
<text x="17.60" y="271.16" text-anchor="end" class="t">0.6</text>
<text x="17.60" y="285.14" text-anchor="end" class="t">0.4</text>
<text x="17.60" y="299.13" text-anchor="end" class="t">0.2</text>
<text x="17.60" y="313.11" text-anchor="end" class="t">0.0</text>
<text x="17.60" y="327.10" text-anchor="end" class="t">−0.2</text>
<text x="60.80" y="236.20" class="h" textLength="29.10" lengthAdjust="spacingAndGlyphs">Poultry</text>
<path d="M115.32,309.11 L117.62,310.31 L115.32,311.51 Z" fill="#111"/>
<path d="M25.10,255.40 L25.54,255.73 L25.98,255.59 L26.42,255.51 L26.86,256.01 L27.30,256.51 L27.77,257.07 L28.23,257.64 L28.70,258.20 L29.17,258.58 L29.63,258.83 L30.10,259.09 L30.64,259.16 L31.18,259.23 L31.71,259.29 L32.25,259.78 L32.79,260.26 L33.33,260.75 L33.86,260.79 L34.40,260.60 L34.88,260.52 L35.37,260.44 L35.85,260.36 L36.33,260.73 L36.82,261.26 L37.30,261.78 L37.86,262.24 L38.42,262.18 L38.98,261.83 L39.54,261.81 L40.10,262.21 L40.64,262.72 L41.17,263.24 L41.71,263.69 L42.25,263.70 L42.79,263.71 L43.33,263.71 L43.86,264.06 L44.40,264.54 L44.94,264.93 L45.47,265.32 L46.01,265.61 L46.55,265.57 L47.09,265.54 L47.62,265.51 L48.16,265.47 L48.70,265.44 L49.18,265.81 L49.66,266.39 L50.13,266.97 L50.61,267.55 L51.09,268.13 L51.57,268.14 L52.04,267.97 L52.52,267.79 L53.00,267.62 L53.54,267.82 L54.08,268.24 L54.61,268.66 L55.15,269.07 L55.69,269.37 L56.22,269.18 L56.76,268.99 L57.30,268.80 L57.84,268.61 L58.38,268.90 L58.91,269.27 L59.45,269.63 L59.99,269.59 L60.52,269.31 L61.06,269.03 L61.60,269.38 L62.14,269.97 L62.67,270.32 L63.21,270.16 L63.75,270.01 L64.29,269.92 L64.83,270.67 L65.36,271.42 L65.90,271.90 L66.37,271.80 L66.83,271.69 L67.30,271.58 L67.77,271.85 L68.23,272.31 L68.70,272.78 L69.17,273.24 L69.63,273.70 L70.10,274.16 L70.54,273.75 L70.98,273.21 L71.42,272.66 L71.86,272.12 L72.30,271.57 L72.70,271.69 L73.10,272.59 L73.50,273.50 L73.90,274.42 L74.30,274.83 L74.78,274.98 L75.26,275.13 L75.73,275.28 L76.21,275.48 L76.69,275.95 L77.17,276.42 L77.64,276.90 L78.12,277.37 L78.60,277.84 L79.14,277.69 L79.67,277.35 L80.21,277.24 L80.75,277.64 L81.29,278.05 L81.83,278.45 L82.36,278.70 L82.90,278.71 L83.46,278.40 L84.02,278.12 L84.58,278.20 L85.14,278.27 L85.70,278.12 L86.11,278.41 L86.53,278.71 L86.94,279.00 L87.36,279.30 L87.77,279.59 L88.19,279.89 L88.60,280.27 L89.08,280.74 L89.56,281.22 L90.03,281.70 L90.51,282.17 L90.99,282.65 L91.47,282.91 L91.94,283.11 L92.42,283.31 L92.90,283.51 L93.43,283.74 L93.95,284.16 L94.47,284.57 L95.00,284.99 L95.53,285.41 L96.05,285.57 L96.57,285.66 L97.10,285.74 L97.61,285.85 L98.13,285.96 L98.64,286.17 L99.16,286.71 L99.67,287.25 L100.19,287.80 L100.70,288.34 L101.11,288.95 L101.53,289.35 L101.94,289.62 L102.36,289.89 L102.77,290.17 L103.19,290.44 L103.60,290.71 L103.95,291.06 L104.30,291.48 L104.65,292.21 L105.00,292.94 L105.35,293.67 L105.70,294.40 L106.11,294.47 L106.53,294.48 L106.94,294.49 L107.36,294.50 L107.77,294.51 L108.19,294.79 L108.60,295.45 L109.07,296.20 L109.53,296.94 L110.00,297.20 L110.47,297.25 L110.93,297.36 L111.40,297.51 L111.64,297.91 L111.89,298.42 L112.13,299.01 L112.38,299.60 L112.62,300.17 L112.87,300.73 L113.11,301.28 L113.36,301.82 L113.60,302.34 L113.88,302.80 L114.16,303.25 L114.44,303.67 L114.72,304.08 L115.00,304.45 L115.17,304.92 L115.33,305.38 L115.50,305.85 L115.67,306.33 L115.83,306.82 L116.00,307.30 L116.08,307.84 L116.15,308.38 L116.22,308.91 L116.30,309.45 L116.38,309.99 L116.45,310.52 L116.52,311.06 L116.60,311.60 L116.66,312.16 L116.71,312.71 L116.77,313.27 L116.82,313.82 L116.88,314.38 L116.93,314.93 L116.99,315.49 L117.04,316.04 L117.10,316.60 L117.22,317.14 L117.35,317.68 L117.47,318.21 L117.60,318.75 L117.72,319.29 L117.85,319.82 L117.97,320.36 L118.10,320.90" fill="none" stroke="#2e2e2e" stroke-width="0.9" stroke-linejoin="round"/>
<line x1="148.20" y1="240.39" x2="237.50" y2="240.39" stroke="#f3f3f3" stroke-width="0.9" stroke-dasharray="1.2 0.9"/>
<line x1="145.20" y1="240.39" x2="147.40" y2="240.39" stroke="#c4c4c4" stroke-width="0.8"/>
<line x1="148.20" y1="254.37" x2="237.50" y2="254.37" stroke="#f3f3f3" stroke-width="0.9" stroke-dasharray="1.2 0.9"/>
<line x1="145.20" y1="254.37" x2="147.40" y2="254.37" stroke="#c4c4c4" stroke-width="0.8"/>
<line x1="148.20" y1="268.36" x2="237.50" y2="268.36" stroke="#f3f3f3" stroke-width="0.9" stroke-dasharray="1.2 0.9"/>
<line x1="145.20" y1="268.36" x2="147.40" y2="268.36" stroke="#c4c4c4" stroke-width="0.8"/>
<line x1="148.20" y1="282.34" x2="237.50" y2="282.34" stroke="#f3f3f3" stroke-width="0.9" stroke-dasharray="1.2 0.9"/>
<line x1="145.20" y1="282.34" x2="147.40" y2="282.34" stroke="#c4c4c4" stroke-width="0.8"/>
<line x1="148.20" y1="296.33" x2="237.50" y2="296.33" stroke="#f3f3f3" stroke-width="0.9" stroke-dasharray="1.2 0.9"/>
<line x1="145.20" y1="296.33" x2="147.40" y2="296.33" stroke="#c4c4c4" stroke-width="0.8"/>
<line x1="145.20" y1="310.31" x2="238.50" y2="310.31" stroke="#c6c6c6" stroke-width="1.4"/>
<line x1="163.86" y1="307.51" x2="163.86" y2="310.31" stroke="#a4a4a4" stroke-width="0.9"/>
<line x1="182.52" y1="307.51" x2="182.52" y2="310.31" stroke="#a4a4a4" stroke-width="0.9"/>
<line x1="201.18" y1="307.51" x2="201.18" y2="310.31" stroke="#a4a4a4" stroke-width="0.9"/>
<line x1="219.84" y1="307.51" x2="219.84" y2="310.31" stroke="#a4a4a4" stroke-width="0.9"/>
<rect x="145.20" y="226.40" width="93.30" height="97.90" fill="none" stroke="#c4c4c4" stroke-width="1.3"/>
<text x="137.70" y="229.20" text-anchor="end" class="t">1.2</text>
<text x="137.70" y="243.19" text-anchor="end" class="t">1.0</text>
<text x="137.70" y="257.17" text-anchor="end" class="t">0.8</text>
<text x="137.70" y="271.16" text-anchor="end" class="t">0.6</text>
<text x="137.70" y="285.14" text-anchor="end" class="t">0.4</text>
<text x="137.70" y="299.13" text-anchor="end" class="t">0.2</text>
<text x="137.70" y="313.11" text-anchor="end" class="t">0.0</text>
<text x="137.70" y="327.10" text-anchor="end" class="t">−0.2</text>
<text x="182.60" y="236.50" class="h" textLength="18.60" lengthAdjust="spacingAndGlyphs">Eggs</text>
<path d="M235.23,309.11 L237.53,310.31 L235.23,311.51 Z" fill="#111"/>
<path d="M145.25,258.60 L145.32,259.58 L145.40,260.09 L145.47,260.59 L145.55,261.10 L145.62,261.61 L145.70,262.11 L145.78,262.62 L145.85,263.13 L146.05,263.54 L146.25,263.96 L146.45,264.38 L146.65,264.80 L146.85,265.21 L147.05,265.63 L147.25,266.06 L147.66,266.61 L148.08,267.17 L148.49,267.72 L148.91,268.27 L149.32,268.83 L149.74,269.38 L150.15,269.67 L150.69,269.49 L151.22,269.31 L151.76,269.13 L152.30,269.36 L152.84,269.86 L153.38,270.36 L153.91,270.79 L154.45,270.60 L154.99,270.32 L155.53,270.64 L156.06,271.08 L156.60,271.52 L157.14,271.96 L157.68,271.88 L158.21,271.68 L158.75,271.49 L159.28,271.42 L159.81,271.87 L160.34,272.33 L160.88,272.78 L161.41,273.23 L161.94,273.68 L162.47,273.17 L163.00,272.67 L163.53,272.76 L164.06,273.33 L164.59,273.91 L165.12,274.48 L165.66,274.22 L166.19,273.82 L166.72,273.59 L167.25,274.18 L167.73,274.80 L168.22,275.42 L168.70,275.57 L169.18,275.34 L169.67,275.12 L170.15,274.91 L170.69,275.55 L171.22,276.19 L171.76,276.83 L172.30,277.31 L172.84,277.07 L173.38,276.83 L173.91,276.59 L174.45,276.36 L174.99,276.03 L175.53,276.16 L176.06,276.46 L176.60,276.76 L177.14,277.06 L177.68,277.31 L178.21,276.99 L178.75,276.68 L179.28,276.55 L179.81,276.43 L180.34,276.35 L180.88,276.93 L181.41,277.51 L181.94,278.09 L182.47,278.62 L183.00,278.30 L183.57,277.90 L184.14,277.59 L184.71,278.06 L185.28,278.52 L185.85,278.89 L186.39,278.90 L186.93,278.92 L187.46,278.94 L188.00,279.04 L188.54,279.60 L189.07,280.15 L189.61,280.12 L190.15,280.03 L190.68,279.60 L191.20,279.17 L191.72,278.74 L192.25,278.94 L192.65,279.70 L193.05,280.45 L193.45,281.21 L193.85,281.75 L194.25,281.70 L194.79,281.46 L195.32,281.22 L195.86,281.55 L196.40,282.11 L196.94,282.66 L197.47,282.77 L198.01,282.88 L198.55,282.99 L199.09,282.93 L199.62,283.02 L200.16,283.47 L200.70,283.92 L201.24,284.37 L201.78,284.15 L202.31,283.90 L202.85,283.65 L203.43,283.15 L204.01,283.06 L204.59,283.17 L205.17,283.27 L205.75,283.38 L206.22,283.93 L206.68,284.16 L207.15,284.05 L207.62,283.95 L208.08,284.29 L208.55,284.80 L209.03,285.20 L209.51,285.60 L209.98,286.01 L210.46,286.41 L210.94,286.69 L211.42,286.64 L211.89,286.60 L212.37,286.56 L212.85,287.08 L213.39,287.59 L213.93,288.11 L214.46,288.28 L215.00,288.15 L215.54,288.02 L216.07,287.89 L216.61,287.96 L217.15,288.52 L217.60,289.11 L218.05,289.48 L218.50,289.62 L218.95,289.76 L219.40,289.90 L219.85,290.04 L220.30,290.30 L220.75,290.75 L221.19,291.26 L221.62,291.77 L222.06,292.28 L222.50,292.51 L222.94,292.74 L223.38,292.97 L223.81,293.20 L224.25,293.43 L224.73,293.62 L225.21,293.94 L225.68,294.61 L226.16,295.29 L226.64,295.84 L227.12,295.93 L227.59,296.03 L228.07,296.12 L228.55,296.22 L229.03,296.22 L229.52,296.23 L230.00,296.64 L230.48,297.35 L230.97,298.01 L231.45,298.24 L231.64,298.63 L231.83,299.04 L232.02,299.45 L232.21,299.88 L232.40,300.32 L232.60,300.76 L232.79,301.25 L232.98,301.86 L233.17,302.46 L233.36,303.05 L233.55,303.63 L233.91,304.08 L234.28,304.49 L234.64,304.86 L235.00,305.16 L235.20,305.58 L235.40,306.00 L235.60,306.43 L235.80,306.86 L236.00,307.30 L236.06,307.86 L236.12,308.41 L236.18,308.97 L236.24,309.52 L236.31,310.08 L236.37,310.63 L236.43,311.19 L236.49,311.74 L236.55,312.30 L236.61,312.87 L236.67,313.44 L236.73,314.01 L236.79,314.58 L236.85,315.15 L236.91,315.72 L236.97,316.29 L237.03,316.86 L237.09,317.43 L237.15,318.00 L237.32,318.48 L237.48,318.97 L237.65,319.45 L237.82,319.93 L237.98,320.42 L238.15,320.90" fill="none" stroke="#2e2e2e" stroke-width="0.9" stroke-linejoin="round"/>
<line x1="268.20" y1="240.39" x2="357.50" y2="240.39" stroke="#f3f3f3" stroke-width="0.9" stroke-dasharray="1.2 0.9"/>
<line x1="265.20" y1="240.39" x2="267.40" y2="240.39" stroke="#c4c4c4" stroke-width="0.8"/>
<line x1="268.20" y1="254.37" x2="357.50" y2="254.37" stroke="#f3f3f3" stroke-width="0.9" stroke-dasharray="1.2 0.9"/>
<line x1="265.20" y1="254.37" x2="267.40" y2="254.37" stroke="#c4c4c4" stroke-width="0.8"/>
<line x1="268.20" y1="268.36" x2="357.50" y2="268.36" stroke="#f3f3f3" stroke-width="0.9" stroke-dasharray="1.2 0.9"/>
<line x1="265.20" y1="268.36" x2="267.40" y2="268.36" stroke="#c4c4c4" stroke-width="0.8"/>
<line x1="268.20" y1="282.34" x2="357.50" y2="282.34" stroke="#f3f3f3" stroke-width="0.9" stroke-dasharray="1.2 0.9"/>
<line x1="265.20" y1="282.34" x2="267.40" y2="282.34" stroke="#c4c4c4" stroke-width="0.8"/>
<line x1="268.20" y1="296.33" x2="357.50" y2="296.33" stroke="#f3f3f3" stroke-width="0.9" stroke-dasharray="1.2 0.9"/>
<line x1="265.20" y1="296.33" x2="267.40" y2="296.33" stroke="#c4c4c4" stroke-width="0.8"/>
<line x1="265.20" y1="310.31" x2="358.50" y2="310.31" stroke="#c6c6c6" stroke-width="1.4"/>
<line x1="283.86" y1="307.51" x2="283.86" y2="310.31" stroke="#a4a4a4" stroke-width="0.9"/>
<line x1="302.52" y1="307.51" x2="302.52" y2="310.31" stroke="#a4a4a4" stroke-width="0.9"/>
<line x1="321.18" y1="307.51" x2="321.18" y2="310.31" stroke="#a4a4a4" stroke-width="0.9"/>
<line x1="339.84" y1="307.51" x2="339.84" y2="310.31" stroke="#a4a4a4" stroke-width="0.9"/>
<rect x="265.20" y="226.40" width="93.30" height="97.90" fill="none" stroke="#c4c4c4" stroke-width="1.3"/>
<text x="257.70" y="229.20" text-anchor="end" class="t">1.2</text>
<text x="257.70" y="243.19" text-anchor="end" class="t">1.0</text>
<text x="257.70" y="257.17" text-anchor="end" class="t">0.8</text>
<text x="257.70" y="271.16" text-anchor="end" class="t">0.6</text>
<text x="257.70" y="285.14" text-anchor="end" class="t">0.4</text>
<text x="257.70" y="299.13" text-anchor="end" class="t">0.2</text>
<text x="257.70" y="313.11" text-anchor="end" class="t">0.0</text>
<text x="257.70" y="327.10" text-anchor="end" class="t">−0.2</text>
<text x="301.60" y="236.50" class="h" textLength="22.20" lengthAdjust="spacingAndGlyphs">Diary</text>
<path d="M355.26,309.11 L357.56,310.31 L355.26,311.51 Z" fill="#111"/>
<path d="M265.50,243.60 L265.64,244.50 L265.77,245.00 L265.91,245.49 L266.05,245.99 L266.19,246.49 L266.32,246.99 L266.46,247.48 L266.60,247.98 L266.77,248.46 L266.95,248.93 L267.12,249.40 L267.30,249.88 L267.48,250.35 L267.65,250.83 L267.82,251.32 L268.00,251.89 L268.30,252.49 L268.60,253.09 L268.90,253.69 L269.20,254.29 L269.50,254.89 L269.80,255.49 L270.10,256.09 L270.58,256.46 L271.07,256.72 L271.55,256.75 L272.03,256.78 L272.52,256.82 L273.00,256.85 L273.48,256.90 L273.96,257.14 L274.43,257.52 L274.91,257.91 L275.39,258.29 L275.87,258.68 L276.34,259.06 L276.82,259.29 L277.30,259.39 L277.84,259.48 L278.38,259.58 L278.91,259.67 L279.45,259.77 L279.99,260.32 L280.52,260.96 L281.06,261.39 L281.60,261.45 L282.14,261.44 L282.68,261.43 L283.21,261.41 L283.75,261.63 L284.29,262.14 L284.82,262.65 L285.36,263.17 L285.90,263.68 L286.37,264.04 L286.83,264.08 L287.30,264.12 L287.77,264.16 L288.23,264.20 L288.70,264.24 L289.17,264.78 L289.63,265.32 L290.10,265.87 L290.64,265.94 L291.18,265.93 L291.71,265.91 L292.25,265.94 L292.79,266.34 L293.32,266.75 L293.86,267.16 L294.40,267.57 L294.94,267.99 L295.48,268.30 L296.01,268.20 L296.55,268.10 L297.09,268.01 L297.62,267.91 L298.16,267.84 L298.70,268.37 L299.24,268.80 L299.77,269.23 L300.31,269.65 L300.85,270.08 L301.39,269.83 L301.93,269.46 L302.46,269.08 L303.00,268.71 L303.58,269.05 L304.16,269.46 L304.74,269.86 L305.32,270.27 L305.90,270.68 L306.37,270.96 L306.83,270.97 L307.30,270.98 L307.77,270.99 L308.23,271.00 L308.70,271.60 L309.13,272.18 L309.57,272.77 L310.00,273.36 L310.42,272.95 L310.84,272.30 L311.26,271.66 L311.68,271.01 L312.10,270.36 L312.47,270.60 L312.83,271.19 L313.20,271.78 L313.57,272.37 L313.93,272.96 L314.30,273.55 L314.73,273.84 L315.16,274.00 L315.59,274.15 L316.02,274.31 L316.45,274.46 L316.88,274.62 L317.31,274.83 L317.74,275.41 L318.17,276.00 L318.60,276.58 L319.14,276.94 L319.68,276.71 L320.21,276.47 L320.75,276.24 L321.29,276.51 L321.82,276.91 L322.36,277.31 L322.90,277.70 L323.37,277.74 L323.83,277.65 L324.30,276.91 L324.77,276.17 L325.23,275.43 L325.70,275.35 L326.11,275.93 L326.53,276.52 L326.94,277.10 L327.36,277.69 L327.77,278.27 L328.19,278.81 L328.60,279.03 L329.08,279.16 L329.56,279.28 L330.03,279.40 L330.51,279.53 L330.99,279.65 L331.47,280.04 L331.94,280.66 L332.42,281.29 L332.90,281.92 L333.43,282.52 L333.95,282.92 L334.48,282.66 L335.00,282.39 L335.52,282.62 L336.05,283.08 L336.57,283.53 L337.10,283.99 L337.55,284.52 L338.00,284.90 L338.45,284.97 L338.90,285.05 L339.35,285.22 L339.80,285.74 L340.25,286.26 L340.70,286.78 L341.10,287.31 L341.50,287.83 L341.90,288.15 L342.30,288.26 L342.70,288.37 L343.10,288.49 L343.50,288.60 L343.90,288.71 L344.30,288.83 L344.69,289.19 L345.08,289.79 L345.47,290.39 L345.86,290.99 L346.25,291.59 L346.65,292.19 L347.04,292.79 L347.43,293.39 L347.82,293.83 L348.21,294.04 L348.60,294.26 L349.07,294.30 L349.53,294.34 L350.00,294.39 L350.47,294.95 L350.93,295.64 L351.40,296.18 L351.58,296.58 L351.77,297.00 L351.95,297.42 L352.13,297.86 L352.32,298.30 L352.50,298.75 L352.68,299.22 L352.87,299.84 L353.05,300.46 L353.23,301.07 L353.42,301.67 L353.60,302.27 L353.95,302.71 L354.30,303.13 L354.65,303.51 L355.00,303.80 L355.14,304.28 L355.29,304.78 L355.43,305.27 L355.57,305.77 L355.71,306.28 L355.86,306.79 L356.00,307.30 L356.07,307.86 L356.13,308.41 L356.20,308.97 L356.27,309.52 L356.33,310.08 L356.40,310.63 L356.47,311.19 L356.53,311.74 L356.60,312.30 L356.65,312.87 L356.70,313.44 L356.75,314.01 L356.80,314.58 L356.85,315.15 L356.90,315.72 L356.95,316.29 L357.00,316.86 L357.05,317.43 L357.10,318.00 L357.23,318.54 L357.35,319.08 L357.48,319.61 L357.60,320.15 L357.73,320.69 L357.85,321.23 L357.98,321.76 L358.10,322.30" fill="none" stroke="#2e2e2e" stroke-width="0.9" stroke-linejoin="round"/>
<line x1="28.10" y1="349.39" x2="117.40" y2="349.39" stroke="#f3f3f3" stroke-width="0.9" stroke-dasharray="1.2 0.9"/>
<line x1="25.10" y1="349.39" x2="27.30" y2="349.39" stroke="#c4c4c4" stroke-width="0.8"/>
<line x1="28.10" y1="363.37" x2="117.40" y2="363.37" stroke="#f3f3f3" stroke-width="0.9" stroke-dasharray="1.2 0.9"/>
<line x1="25.10" y1="363.37" x2="27.30" y2="363.37" stroke="#c4c4c4" stroke-width="0.8"/>
<line x1="28.10" y1="377.36" x2="117.40" y2="377.36" stroke="#f3f3f3" stroke-width="0.9" stroke-dasharray="1.2 0.9"/>
<line x1="25.10" y1="377.36" x2="27.30" y2="377.36" stroke="#c4c4c4" stroke-width="0.8"/>
<line x1="28.10" y1="391.34" x2="117.40" y2="391.34" stroke="#f3f3f3" stroke-width="0.9" stroke-dasharray="1.2 0.9"/>
<line x1="25.10" y1="391.34" x2="27.30" y2="391.34" stroke="#c4c4c4" stroke-width="0.8"/>
<line x1="28.10" y1="405.33" x2="117.40" y2="405.33" stroke="#f3f3f3" stroke-width="0.9" stroke-dasharray="1.2 0.9"/>
<line x1="25.10" y1="405.33" x2="27.30" y2="405.33" stroke="#c4c4c4" stroke-width="0.8"/>
<line x1="25.10" y1="419.31" x2="118.40" y2="419.31" stroke="#c6c6c6" stroke-width="1.4"/>
<line x1="43.76" y1="416.51" x2="43.76" y2="419.31" stroke="#a4a4a4" stroke-width="0.9"/>
<line x1="62.42" y1="416.51" x2="62.42" y2="419.31" stroke="#a4a4a4" stroke-width="0.9"/>
<line x1="81.08" y1="416.51" x2="81.08" y2="419.31" stroke="#a4a4a4" stroke-width="0.9"/>
<line x1="99.74" y1="416.51" x2="99.74" y2="419.31" stroke="#a4a4a4" stroke-width="0.9"/>
<rect x="25.10" y="335.40" width="93.30" height="97.90" fill="none" stroke="#c4c4c4" stroke-width="1.3"/>
<text x="17.60" y="338.20" text-anchor="end" class="t">1.2</text>
<text x="17.60" y="352.19" text-anchor="end" class="t">1.0</text>
<text x="17.60" y="366.17" text-anchor="end" class="t">0.8</text>
<text x="17.60" y="380.16" text-anchor="end" class="t">0.6</text>
<text x="17.60" y="394.14" text-anchor="end" class="t">0.4</text>
<text x="17.60" y="408.13" text-anchor="end" class="t">0.2</text>
<text x="17.60" y="422.11" text-anchor="end" class="t">0.0</text>
<text x="17.60" y="436.10" text-anchor="end" class="t">−0.2</text>
<text x="56.30" y="345.40" class="h" textLength="31.60" lengthAdjust="spacingAndGlyphs">Seafood</text>
<path d="M115.26,418.11 L117.56,419.31 L115.26,420.51 Z" fill="#111"/>
<path d="M25.10,363.70 L25.31,363.51 L25.53,362.82 L25.74,362.13 L25.96,361.44 L26.17,360.75 L26.39,360.06 L26.60,359.37 L26.88,358.82 L27.16,358.55 L27.44,358.28 L27.72,358.01 L28.00,357.73 L28.42,358.23 L28.84,358.74 L29.26,359.24 L29.68,359.56 L30.10,359.59 L30.58,359.54 L31.07,359.50 L31.55,359.45 L32.03,359.41 L32.52,359.87 L33.00,360.58 L33.51,361.18 L34.03,361.77 L34.54,361.93 L35.06,361.61 L35.57,361.29 L36.09,360.97 L36.60,361.20 L36.77,361.87 L36.95,362.53 L37.12,363.19 L37.30,363.85 L37.83,364.09 L38.35,363.92 L38.88,363.29 L39.40,362.66 L39.84,362.56 L40.28,362.74 L40.72,363.27 L41.16,363.80 L41.60,364.32 L42.14,364.81 L42.67,364.88 L43.21,364.91 L43.75,364.93 L44.29,364.96 L44.83,365.31 L45.36,365.71 L45.90,366.12 L46.32,366.57 L46.74,367.03 L47.16,367.08 L47.58,367.03 L48.00,366.99 L48.23,367.28 L48.47,367.57 L48.70,367.85 L48.93,368.32 L49.17,368.97 L49.40,369.61 L49.77,369.41 L50.13,369.22 L50.50,369.03 L50.87,368.74 L51.23,368.16 L51.60,367.59 L51.95,367.93 L52.30,368.27 L52.65,368.62 L53.00,368.96 L53.35,369.40 L53.70,369.95 L54.05,370.51 L54.40,371.07 L54.88,371.08 L55.37,370.95 L55.85,370.48 L56.33,370.01 L56.82,369.55 L57.30,369.68 L57.84,370.18 L58.38,370.69 L58.91,371.19 L59.45,371.03 L59.99,370.81 L60.52,370.59 L61.06,370.37 L61.60,370.25 L62.14,371.00 L62.67,371.74 L63.21,372.48 L63.75,373.23 L64.29,373.54 L64.83,373.46 L65.36,373.39 L65.90,373.32 L66.46,372.83 L67.02,372.66 L67.58,372.84 L68.14,373.02 L68.70,373.20 L68.92,373.83 L69.14,374.46 L69.36,375.08 L69.58,375.71 L69.80,376.17 L70.02,376.55 L70.24,376.93 L70.46,377.32 L70.68,377.70 L70.90,378.08 L71.07,377.43 L71.24,376.78 L71.41,376.13 L71.59,375.48 L71.76,374.83 L71.93,374.19 L72.10,373.54 L72.41,373.98 L72.73,374.68 L73.04,375.39 L73.36,376.10 L73.67,376.81 L73.99,377.48 L74.30,377.75 L74.69,377.96 L75.08,378.17 L75.47,378.38 L75.86,378.59 L76.25,378.80 L76.65,379.01 L77.04,379.53 L77.43,380.13 L77.82,380.73 L78.21,381.34 L78.60,381.67 L79.14,381.56 L79.67,381.46 L80.21,381.35 L80.75,381.24 L81.29,381.47 L81.83,381.96 L82.36,382.37 L82.90,382.17 L83.37,381.68 L83.83,381.19 L84.30,380.71 L84.77,380.50 L85.23,380.50 L85.70,380.50 L86.02,381.14 L86.34,381.78 L86.67,382.42 L86.99,383.05 L87.31,383.42 L87.63,383.79 L87.96,384.16 L88.28,384.53 L88.60,384.90 L89.08,385.06 L89.56,385.21 L90.03,385.36 L90.51,385.93 L90.99,386.60 L91.47,387.28 L91.94,387.32 L92.42,387.23 L92.90,387.14 L93.37,387.50 L93.83,388.12 L94.30,388.73 L94.77,389.35 L95.23,389.97 L95.70,390.38 L96.17,390.53 L96.63,390.68 L97.10,390.83 L97.61,390.94 L98.13,391.05 L98.64,391.37 L99.16,391.89 L99.67,392.42 L100.19,392.94 L100.70,393.47 L101.03,393.96 L101.35,394.21 L101.68,394.47 L102.01,394.73 L102.34,394.98 L102.66,395.24 L102.99,395.49 L103.32,395.99 L103.65,396.51 L103.97,397.04 L104.30,397.56 L104.69,398.04 L105.08,398.51 L105.47,398.99 L105.86,399.46 L106.25,399.81 L106.65,400.15 L107.04,400.48 L107.43,400.82 L107.82,401.16 L108.21,401.49 L108.60,401.83 L109.07,402.13 L109.53,402.76 L110.00,403.38 L110.47,403.96 L110.93,404.37 L111.40,404.49 L111.57,404.97 L111.74,405.46 L111.91,405.94 L112.08,406.44 L112.25,406.94 L112.42,407.44 L112.58,407.95 L112.75,408.47 L112.92,408.99 L113.09,409.51 L113.26,410.04 L113.43,410.58 L113.60,411.12 L113.95,411.48 L114.30,411.92 L114.65,412.32 L115.00,412.70 L115.14,413.22 L115.29,413.74 L115.43,414.25 L115.57,414.76 L115.71,415.27 L115.86,415.79 L116.00,416.30 L116.07,416.86 L116.13,417.41 L116.20,417.97 L116.27,418.52 L116.33,419.08 L116.40,419.63 L116.47,420.19 L116.53,420.74 L116.60,421.30 L116.65,421.87 L116.70,422.44 L116.75,423.01 L116.80,423.58 L116.85,424.15 L116.90,424.72 L116.95,425.29 L117.00,425.86 L117.05,426.43 L117.10,427.00 L117.24,427.51 L117.39,428.03 L117.53,428.54 L117.67,429.06 L117.81,429.57 L117.96,430.09 L118.10,430.60" fill="none" stroke="#2e2e2e" stroke-width="0.9" stroke-linejoin="round"/>
<line x1="148.20" y1="349.39" x2="237.50" y2="349.39" stroke="#f3f3f3" stroke-width="0.9" stroke-dasharray="1.2 0.9"/>
<line x1="145.20" y1="349.39" x2="147.40" y2="349.39" stroke="#c4c4c4" stroke-width="0.8"/>
<line x1="148.20" y1="363.37" x2="237.50" y2="363.37" stroke="#f3f3f3" stroke-width="0.9" stroke-dasharray="1.2 0.9"/>
<line x1="145.20" y1="363.37" x2="147.40" y2="363.37" stroke="#c4c4c4" stroke-width="0.8"/>
<line x1="148.20" y1="377.36" x2="237.50" y2="377.36" stroke="#f3f3f3" stroke-width="0.9" stroke-dasharray="1.2 0.9"/>
<line x1="145.20" y1="377.36" x2="147.40" y2="377.36" stroke="#c4c4c4" stroke-width="0.8"/>
<line x1="148.20" y1="391.34" x2="237.50" y2="391.34" stroke="#f3f3f3" stroke-width="0.9" stroke-dasharray="1.2 0.9"/>
<line x1="145.20" y1="391.34" x2="147.40" y2="391.34" stroke="#c4c4c4" stroke-width="0.8"/>
<line x1="148.20" y1="405.33" x2="237.50" y2="405.33" stroke="#f3f3f3" stroke-width="0.9" stroke-dasharray="1.2 0.9"/>
<line x1="145.20" y1="405.33" x2="147.40" y2="405.33" stroke="#c4c4c4" stroke-width="0.8"/>
<line x1="145.20" y1="419.31" x2="238.50" y2="419.31" stroke="#c6c6c6" stroke-width="1.4"/>
<line x1="163.86" y1="416.51" x2="163.86" y2="419.31" stroke="#a4a4a4" stroke-width="0.9"/>
<line x1="182.52" y1="416.51" x2="182.52" y2="419.31" stroke="#a4a4a4" stroke-width="0.9"/>
<line x1="201.18" y1="416.51" x2="201.18" y2="419.31" stroke="#a4a4a4" stroke-width="0.9"/>
<line x1="219.84" y1="416.51" x2="219.84" y2="419.31" stroke="#a4a4a4" stroke-width="0.9"/>
<rect x="145.20" y="335.40" width="93.30" height="97.90" fill="none" stroke="#c4c4c4" stroke-width="1.3"/>
<text x="137.70" y="338.20" text-anchor="end" class="t">1.2</text>
<text x="137.70" y="352.19" text-anchor="end" class="t">1.0</text>
<text x="137.70" y="366.17" text-anchor="end" class="t">0.8</text>
<text x="137.70" y="380.16" text-anchor="end" class="t">0.6</text>
<text x="137.70" y="394.14" text-anchor="end" class="t">0.4</text>
<text x="137.70" y="408.13" text-anchor="end" class="t">0.2</text>
<text x="137.70" y="422.11" text-anchor="end" class="t">0.0</text>
<text x="137.70" y="436.10" text-anchor="end" class="t">−0.2</text>
<text x="168.90" y="345.70" class="h" textLength="42.70" lengthAdjust="spacingAndGlyphs">Vegetables</text>
<path d="M235.23,418.11 L237.53,419.31 L235.23,420.51 Z" fill="#111"/>
<path d="M145.25,363.70 L145.44,364.81 L145.62,365.23 L145.81,365.65 L145.99,366.06 L146.18,366.48 L146.36,366.89 L146.55,367.31 L146.92,367.58 L147.28,367.85 L147.65,368.16 L148.02,368.87 L148.38,369.59 L148.75,370.30 L149.28,370.62 L149.81,370.51 L150.34,370.41 L150.88,370.64 L151.41,371.12 L151.94,371.59 L152.47,372.06 L153.00,372.53 L153.53,372.94 L154.06,373.06 L154.59,373.18 L155.12,373.31 L155.66,373.43 L156.19,373.55 L156.72,373.87 L157.25,374.47 L157.79,374.98 L158.32,374.85 L158.86,374.72 L159.40,374.58 L159.94,374.45 L160.47,374.83 L161.01,375.31 L161.55,375.78 L162.09,376.15 L162.62,376.52 L163.16,376.23 L163.70,375.90 L164.24,375.56 L164.78,376.03 L165.31,376.63 L165.85,377.23 L166.33,377.46 L166.82,377.52 L167.30,377.58 L167.78,377.64 L168.27,377.69 L168.75,377.98 L169.31,378.27 L169.87,378.56 L170.43,378.86 L170.99,379.15 L171.55,379.14 L171.96,379.32 L172.38,379.51 L172.79,379.70 L173.21,379.88 L173.62,380.07 L174.04,380.32 L174.45,380.92 L175.01,381.31 L175.57,381.70 L176.13,381.57 L176.69,381.14 L177.25,380.71 L177.79,380.38 L178.32,380.60 L178.86,381.27 L179.40,381.94 L179.94,381.73 L180.47,381.51 L181.01,381.30 L181.55,381.08 L182.09,380.98 L182.62,381.61 L183.16,382.24 L183.70,382.26 L184.24,382.01 L184.78,381.76 L185.31,382.12 L185.85,382.67 L186.43,382.94 L187.01,383.18 L187.59,382.63 L188.17,382.07 L188.75,381.70 L188.93,382.41 L189.11,383.12 L189.29,383.83 L189.46,384.54 L189.64,385.25 L189.82,385.96 L190.00,386.67 L190.36,386.44 L190.72,385.85 L191.07,385.27 L191.43,384.69 L191.79,384.11 L192.15,383.52 L192.50,383.68 L192.85,384.24 L193.20,384.82 L193.55,385.40 L193.90,385.98 L194.25,386.57 L194.79,386.98 L195.32,386.93 L195.86,386.87 L196.40,386.82 L196.94,386.77 L197.47,387.22 L198.01,387.82 L198.55,388.41 L199.09,388.74 L199.62,388.57 L200.16,388.40 L200.70,388.82 L201.24,389.48 L201.78,390.14 L202.31,390.81 L202.85,391.01 L203.33,389.97 L203.82,388.92 L204.30,388.42 L204.78,388.64 L205.27,388.85 L205.75,389.07 L206.15,389.40 L206.55,389.58 L206.95,389.75 L207.35,389.93 L207.75,390.14 L208.15,390.74 L208.55,391.35 L209.09,391.88 L209.62,392.40 L210.16,392.92 L210.70,392.97 L211.24,392.96 L211.77,392.95 L212.31,392.93 L212.85,393.32 L213.33,393.86 L213.81,394.39 L214.28,394.93 L214.76,395.21 L215.24,395.16 L215.72,395.11 L216.19,395.06 L216.67,395.01 L217.15,394.96 L217.66,395.11 L218.18,395.65 L218.69,396.19 L219.21,396.73 L219.72,397.27 L220.24,397.82 L220.75,398.25 L221.14,398.37 L221.53,398.50 L221.92,398.62 L222.31,398.75 L222.69,399.33 L223.08,399.90 L223.47,400.48 L223.86,401.06 L224.25,401.63 L224.68,402.11 L225.11,402.19 L225.54,402.28 L225.97,402.36 L226.40,402.44 L226.83,402.99 L227.26,403.55 L227.69,404.11 L228.12,404.66 L228.55,405.22 L229.03,405.44 L229.52,405.24 L230.00,405.04 L230.48,405.03 L230.97,405.70 L231.45,406.30 L231.64,406.94 L231.83,407.57 L232.02,408.19 L232.21,408.80 L232.40,409.39 L232.60,409.98 L232.79,410.55 L232.98,411.11 L233.17,411.66 L233.36,412.01 L233.55,412.38 L233.91,412.50 L234.28,412.68 L234.64,412.94 L235.00,413.37 L235.17,413.87 L235.33,414.37 L235.50,414.86 L235.67,415.34 L235.83,415.82 L236.00,416.30 L236.06,416.86 L236.12,417.41 L236.18,417.97 L236.24,418.52 L236.31,419.08 L236.37,419.63 L236.43,420.19 L236.49,420.74 L236.55,421.30 L236.61,421.87 L236.67,422.44 L236.73,423.01 L236.79,423.58 L236.85,424.15 L236.91,424.72 L236.97,425.29 L237.03,425.86 L237.09,426.43 L237.15,427.00 L237.29,427.51 L237.44,428.03 L237.58,428.54 L237.72,429.06 L237.86,429.57 L238.01,430.09 L238.15,430.60" fill="none" stroke="#2e2e2e" stroke-width="0.9" stroke-linejoin="round"/>
<line x1="268.20" y1="349.39" x2="357.50" y2="349.39" stroke="#f3f3f3" stroke-width="0.9" stroke-dasharray="1.2 0.9"/>
<line x1="265.20" y1="349.39" x2="267.40" y2="349.39" stroke="#c4c4c4" stroke-width="0.8"/>
<line x1="268.20" y1="363.37" x2="357.50" y2="363.37" stroke="#f3f3f3" stroke-width="0.9" stroke-dasharray="1.2 0.9"/>
<line x1="265.20" y1="363.37" x2="267.40" y2="363.37" stroke="#c4c4c4" stroke-width="0.8"/>
<line x1="268.20" y1="377.36" x2="357.50" y2="377.36" stroke="#f3f3f3" stroke-width="0.9" stroke-dasharray="1.2 0.9"/>
<line x1="265.20" y1="377.36" x2="267.40" y2="377.36" stroke="#c4c4c4" stroke-width="0.8"/>
<line x1="268.20" y1="391.34" x2="357.50" y2="391.34" stroke="#f3f3f3" stroke-width="0.9" stroke-dasharray="1.2 0.9"/>
<line x1="265.20" y1="391.34" x2="267.40" y2="391.34" stroke="#c4c4c4" stroke-width="0.8"/>
<line x1="268.20" y1="405.33" x2="357.50" y2="405.33" stroke="#f3f3f3" stroke-width="0.9" stroke-dasharray="1.2 0.9"/>
<line x1="265.20" y1="405.33" x2="267.40" y2="405.33" stroke="#c4c4c4" stroke-width="0.8"/>
<line x1="265.20" y1="419.31" x2="358.50" y2="419.31" stroke="#c6c6c6" stroke-width="1.4"/>
<line x1="283.86" y1="416.51" x2="283.86" y2="419.31" stroke="#a4a4a4" stroke-width="0.9"/>
<line x1="302.52" y1="416.51" x2="302.52" y2="419.31" stroke="#a4a4a4" stroke-width="0.9"/>
<line x1="321.18" y1="416.51" x2="321.18" y2="419.31" stroke="#a4a4a4" stroke-width="0.9"/>
<line x1="339.84" y1="416.51" x2="339.84" y2="419.31" stroke="#a4a4a4" stroke-width="0.9"/>
<rect x="265.20" y="335.40" width="93.30" height="97.90" fill="none" stroke="#c4c4c4" stroke-width="1.3"/>
<text x="257.70" y="338.20" text-anchor="end" class="t">1.2</text>
<text x="257.70" y="352.19" text-anchor="end" class="t">1.0</text>
<text x="257.70" y="366.17" text-anchor="end" class="t">0.8</text>
<text x="257.70" y="380.16" text-anchor="end" class="t">0.6</text>
<text x="257.70" y="394.14" text-anchor="end" class="t">0.4</text>
<text x="257.70" y="408.13" text-anchor="end" class="t">0.2</text>
<text x="257.70" y="422.11" text-anchor="end" class="t">0.0</text>
<text x="257.70" y="436.10" text-anchor="end" class="t">−0.2</text>
<text x="300.90" y="345.50" class="h" textLength="23.20" lengthAdjust="spacingAndGlyphs">Fruits</text>
<path d="M355.26,418.11 L357.56,419.31 L355.26,420.51 Z" fill="#111"/>
<path d="M265.50,353.70 L265.54,354.74 L265.59,355.29 L265.63,355.83 L265.68,356.38 L265.72,356.92 L265.77,357.47 L265.81,358.01 L265.86,358.56 L265.90,359.11 L265.98,359.64 L266.06,360.18 L266.13,360.72 L266.21,361.26 L266.29,361.79 L266.37,362.33 L266.44,362.87 L266.52,363.41 L266.60,363.95 L266.80,364.41 L267.00,364.88 L267.20,365.35 L267.40,365.82 L267.60,366.29 L267.80,366.76 L268.00,367.23 L268.35,367.61 L268.70,368.03 L269.05,368.60 L269.40,369.17 L269.75,369.73 L270.10,370.30 L270.58,370.68 L271.06,371.07 L271.53,371.45 L272.01,371.68 L272.49,371.72 L272.97,371.76 L273.44,371.80 L273.92,371.84 L274.40,372.19 L274.88,372.58 L275.37,372.97 L275.85,373.37 L276.33,373.76 L276.82,374.15 L277.30,374.04 L277.86,373.75 L278.42,373.47 L278.98,373.40 L279.54,374.15 L280.10,374.91 L280.64,375.69 L281.18,375.66 L281.71,375.45 L282.25,375.23 L282.79,375.01 L283.32,374.80 L283.86,374.99 L284.40,375.52 L284.94,376.12 L285.48,376.73 L286.01,377.22 L286.55,377.30 L287.09,377.38 L287.62,377.46 L288.16,377.53 L288.70,377.61 L289.28,377.41 L289.86,377.47 L290.44,377.54 L291.02,377.60 L291.60,377.66 L291.95,378.23 L292.30,378.63 L292.65,378.87 L293.00,379.10 L293.35,379.33 L293.70,379.56 L294.05,379.79 L294.40,380.07 L294.88,380.23 L295.37,380.40 L295.85,380.56 L296.33,380.52 L296.82,379.87 L297.30,379.22 L297.84,378.95 L298.38,379.32 L298.91,379.76 L299.45,380.21 L299.99,380.65 L300.52,381.10 L301.06,381.36 L301.60,381.13 L302.14,380.97 L302.68,380.81 L303.21,380.93 L303.75,381.63 L304.29,382.34 L304.82,383.00 L305.36,383.10 L305.90,383.20 L306.37,382.83 L306.83,382.45 L307.30,382.08 L307.77,381.70 L308.23,381.77 L308.70,382.03 L308.86,382.71 L309.02,383.38 L309.19,383.94 L309.35,384.31 L309.51,384.69 L309.68,385.06 L309.84,385.43 L310.00,385.81 L310.35,385.17 L310.70,384.53 L311.05,383.89 L311.40,383.25 L311.75,383.04 L312.10,382.85 L312.54,383.37 L312.98,383.89 L313.42,384.41 L313.86,384.94 L314.30,385.29 L314.78,385.31 L315.26,385.33 L315.73,385.35 L316.21,385.37 L316.69,386.12 L317.17,386.92 L317.64,387.73 L318.12,388.13 L318.60,388.15 L319.14,388.00 L319.68,387.85 L320.21,387.70 L320.75,387.67 L321.29,388.10 L321.82,388.52 L322.36,388.94 L322.90,389.36 L323.37,389.34 L323.83,388.98 L324.30,388.46 L324.77,387.95 L325.23,387.43 L325.70,386.92 L326.11,387.33 L326.53,388.00 L326.94,388.66 L327.36,389.32 L327.77,389.99 L328.19,390.27 L328.60,390.47 L329.08,390.53 L329.56,390.59 L330.03,390.75 L330.51,391.31 L330.99,391.86 L331.47,392.41 L331.94,392.97 L332.42,393.50 L332.90,393.59 L333.43,393.63 L333.95,393.67 L334.48,393.71 L335.00,393.74 L335.52,393.89 L336.05,394.47 L336.57,395.04 L337.10,395.61 L337.61,396.21 L338.13,396.42 L338.64,396.46 L339.16,396.50 L339.67,396.54 L340.19,396.58 L340.70,397.10 L341.10,397.69 L341.50,398.28 L341.90,398.87 L342.30,399.46 L342.70,400.05 L343.10,400.57 L343.50,400.83 L343.90,401.10 L344.30,401.36 L344.78,401.52 L345.26,401.67 L345.73,402.31 L346.21,402.94 L346.69,403.57 L347.17,403.81 L347.64,403.88 L348.12,403.94 L348.60,404.01 L349.07,404.02 L349.53,404.03 L350.00,404.50 L350.47,405.10 L350.93,405.67 L351.40,406.19 L351.60,406.66 L351.80,407.03 L352.00,407.42 L352.20,407.81 L352.40,408.22 L352.60,408.64 L352.80,409.07 L353.00,409.51 L353.20,409.96 L353.40,410.48 L353.60,411.05 L353.88,411.53 L354.16,412.01 L354.44,412.47 L354.72,412.93 L355.00,413.38 L355.17,413.87 L355.33,414.36 L355.50,414.85 L355.67,415.34 L355.83,415.82 L356.00,416.30 L356.07,416.86 L356.13,417.41 L356.20,417.97 L356.27,418.52 L356.33,419.08 L356.40,419.63 L356.47,420.19 L356.53,420.74 L356.60,421.30 L356.65,421.87 L356.70,422.44 L356.75,423.01 L356.80,423.58 L356.85,424.15 L356.90,424.72 L356.95,425.29 L357.00,425.86 L357.05,426.43 L357.10,427.00 L357.23,427.54 L357.35,428.08 L357.48,428.61 L357.60,429.15 L357.73,429.69 L357.85,430.23 L357.98,430.76 L358.10,431.30" fill="none" stroke="#2e2e2e" stroke-width="0.9" stroke-linejoin="round"/>
<line x1="147.50" y1="459.39" x2="236.80" y2="459.39" stroke="#f3f3f3" stroke-width="0.9" stroke-dasharray="1.2 0.9"/>
<line x1="144.50" y1="459.39" x2="146.70" y2="459.39" stroke="#c4c4c4" stroke-width="0.8"/>
<line x1="147.50" y1="473.37" x2="236.80" y2="473.37" stroke="#f3f3f3" stroke-width="0.9" stroke-dasharray="1.2 0.9"/>
<line x1="144.50" y1="473.37" x2="146.70" y2="473.37" stroke="#c4c4c4" stroke-width="0.8"/>
<line x1="147.50" y1="487.36" x2="236.80" y2="487.36" stroke="#f3f3f3" stroke-width="0.9" stroke-dasharray="1.2 0.9"/>
<line x1="144.50" y1="487.36" x2="146.70" y2="487.36" stroke="#c4c4c4" stroke-width="0.8"/>
<line x1="147.50" y1="501.34" x2="236.80" y2="501.34" stroke="#f3f3f3" stroke-width="0.9" stroke-dasharray="1.2 0.9"/>
<line x1="144.50" y1="501.34" x2="146.70" y2="501.34" stroke="#c4c4c4" stroke-width="0.8"/>
<line x1="147.50" y1="515.33" x2="236.80" y2="515.33" stroke="#f3f3f3" stroke-width="0.9" stroke-dasharray="1.2 0.9"/>
<line x1="144.50" y1="515.33" x2="146.70" y2="515.33" stroke="#c4c4c4" stroke-width="0.8"/>
<line x1="144.50" y1="529.31" x2="237.80" y2="529.31" stroke="#c6c6c6" stroke-width="1.4"/>
<line x1="163.16" y1="526.51" x2="163.16" y2="529.31" stroke="#a4a4a4" stroke-width="0.9"/>
<line x1="181.82" y1="526.51" x2="181.82" y2="529.31" stroke="#a4a4a4" stroke-width="0.9"/>
<line x1="200.48" y1="526.51" x2="200.48" y2="529.31" stroke="#a4a4a4" stroke-width="0.9"/>
<line x1="219.14" y1="526.51" x2="219.14" y2="529.31" stroke="#a4a4a4" stroke-width="0.9"/>
<rect x="144.50" y="445.40" width="93.30" height="97.90" fill="none" stroke="#c4c4c4" stroke-width="1.3"/>
<text x="137.00" y="448.20" text-anchor="end" class="t">1.2</text>
<text x="137.00" y="462.19" text-anchor="end" class="t">1.0</text>
<text x="137.00" y="476.17" text-anchor="end" class="t">0.8</text>
<text x="137.00" y="490.16" text-anchor="end" class="t">0.6</text>
<text x="137.00" y="504.14" text-anchor="end" class="t">0.4</text>
<text x="137.00" y="518.13" text-anchor="end" class="t">0.2</text>
<text x="137.00" y="532.11" text-anchor="end" class="t">0.0</text>
<text x="137.00" y="546.10" text-anchor="end" class="t">−0.2</text>
<text x="169.40" y="454.70" class="h" textLength="51.20" lengthAdjust="spacingAndGlyphs">Other grains</text>
<path d="M234.43,528.11 L236.73,529.31 L234.43,530.51 Z" fill="#111"/>
<path d="M144.60,467.10 L144.62,468.45 L144.63,469.00 L144.65,469.56 L144.67,470.11 L144.69,470.66 L144.70,471.21 L144.72,471.77 L144.74,472.32 L144.76,472.87 L144.77,473.42 L144.79,473.98 L144.81,474.53 L144.83,475.08 L144.84,475.63 L144.86,476.19 L144.93,476.67 L145.01,477.15 L145.08,477.63 L145.16,478.11 L145.23,478.59 L145.30,479.07 L145.38,479.55 L145.45,480.03 L145.53,480.52 L145.60,481.00 L145.83,481.22 L146.07,481.44 L146.30,481.75 L146.47,482.45 L146.65,483.16 L146.82,483.87 L147.00,484.57 L147.09,485.20 L147.17,485.83 L147.26,486.46 L147.35,487.09 L147.44,487.71 L147.53,488.34 L147.61,488.97 L147.70,489.60 L147.98,489.45 L148.26,489.30 L148.54,488.93 L148.82,488.27 L149.10,487.61 L149.35,487.89 L149.60,488.18 L149.85,488.46 L150.10,488.75 L150.35,489.03 L150.60,489.32 L150.95,489.39 L151.30,489.47 L151.65,489.95 L152.00,490.58 L152.42,491.21 L152.84,491.84 L153.26,492.47 L153.68,493.10 L154.10,493.56 L154.47,493.49 L154.85,493.42 L155.22,493.35 L155.60,493.70 L156.12,493.85 L156.65,494.01 L157.17,494.16 L157.70,494.32 L158.14,494.88 L158.58,495.03 L159.02,494.84 L159.46,494.65 L159.90,494.46 L160.16,493.67 L160.41,492.88 L160.67,492.22 L160.93,491.87 L161.19,491.53 L161.44,491.18 L161.70,490.84 L161.89,491.51 L162.08,492.19 L162.27,492.87 L162.46,493.55 L162.64,494.23 L162.83,494.91 L163.02,495.59 L163.21,496.27 L163.40,496.94 L163.70,496.57 L164.00,495.89 L164.30,495.21 L164.60,494.53 L164.90,493.84 L165.10,494.18 L165.30,494.52 L165.50,494.86 L165.70,495.54 L165.90,496.22 L166.10,496.90 L166.30,497.58 L166.47,497.19 L166.65,496.80 L166.82,496.41 L167.00,496.02 L167.17,495.63 L167.35,495.24 L167.53,494.85 L167.70,494.17 L167.84,494.61 L167.98,495.06 L168.12,495.50 L168.26,495.95 L168.40,496.39 L168.54,496.83 L168.68,497.28 L168.82,497.72 L168.96,498.17 L169.10,498.66 L169.24,498.13 L169.37,497.60 L169.51,497.07 L169.65,496.54 L169.78,496.01 L169.92,495.48 L170.05,494.95 L170.19,494.42 L170.33,493.89 L170.46,493.36 L170.60,492.83 L170.70,493.45 L170.80,494.08 L170.90,494.71 L171.00,495.33 L171.10,495.96 L171.20,496.59 L171.30,497.21 L171.40,497.84 L171.50,498.46 L171.60,499.08 L171.70,499.63 L171.80,500.18 L171.90,500.73 L172.00,501.28 L172.10,501.83 L172.20,502.38 L172.30,502.93 L172.60,502.33 L172.90,501.73 L173.20,501.13 L173.50,500.53 L173.80,499.93 L174.10,499.33 L174.40,498.80 L174.70,498.31 L175.00,498.15 L175.30,497.98 L175.60,497.82 L175.80,498.48 L176.00,499.15 L176.20,499.82 L176.40,500.49 L176.60,501.16 L176.80,501.83 L177.00,502.50 L177.17,501.88 L177.35,501.20 L177.52,500.52 L177.70,499.84 L177.88,499.16 L178.05,498.47 L178.22,497.79 L178.40,497.11 L178.57,497.53 L178.73,497.95 L178.90,498.37 L179.07,498.79 L179.23,499.21 L179.40,499.62 L179.57,500.04 L179.73,500.46 L179.90,501.01 L180.10,500.66 L180.30,500.31 L180.50,499.96 L180.70,499.61 L180.90,499.26 L181.10,498.91 L181.30,498.56 L181.65,499.28 L182.00,500.01 L182.35,500.42 L182.70,500.78 L183.05,501.15 L183.40,501.51 L183.84,501.10 L184.28,500.69 L184.72,500.28 L185.16,499.87 L185.60,499.77 L185.95,500.40 L186.30,501.03 L186.65,501.66 L187.00,502.29 L187.35,502.92 L187.70,503.56 L188.28,503.91 L188.86,503.75 L189.44,503.60 L190.02,503.45 L190.60,503.34 L191.10,503.63 L191.60,503.92 L192.10,504.21 L192.60,504.50 L193.10,504.80 L193.60,504.61 L194.00,503.89 L194.40,503.16 L194.80,502.44 L195.20,501.72 L195.60,501.19 L196.00,501.00 L196.40,500.81 L196.52,501.43 L196.63,502.05 L196.75,502.67 L196.86,503.29 L196.98,503.91 L197.09,504.53 L197.21,505.15 L197.32,505.76 L197.44,506.38 L197.55,507.00 L197.67,507.62 L197.78,508.24 L197.90,508.86 L198.04,508.37 L198.18,507.88 L198.32,507.37 L198.46,506.70 L198.60,506.04 L198.74,505.37 L198.88,504.70 L199.02,504.04 L199.16,503.37 L199.30,502.70 L199.50,503.06 L199.70,503.43 L199.90,503.79 L200.10,504.15 L200.30,504.51 L200.50,504.87 L200.70,505.42 L201.25,506.02 L201.80,506.61 L202.35,506.51 L202.90,505.78 L203.25,505.79 L203.60,505.80 L203.95,506.26 L204.30,506.86 L204.65,507.46 L205.00,508.07 L205.42,508.05 L205.84,507.87 L206.26,507.39 L206.68,506.91 L207.10,506.43 L207.68,506.32 L208.26,506.35 L208.84,506.72 L209.42,507.09 L210.00,507.41 L210.28,506.85 L210.56,506.29 L210.84,505.73 L211.12,505.17 L211.40,504.60 L211.51,505.12 L211.61,505.63 L211.72,506.14 L211.83,506.65 L211.94,507.16 L212.04,507.67 L212.15,508.18 L212.26,508.69 L212.36,509.20 L212.47,509.71 L212.58,510.22 L212.69,510.73 L212.79,511.24 L212.90,511.75 L213.10,511.13 L213.30,510.74 L213.50,510.39 L213.70,510.03 L213.90,509.68 L214.10,509.32 L214.30,508.97 L214.72,509.58 L215.14,510.16 L215.56,510.30 L215.98,510.44 L216.40,510.59 L216.95,510.41 L217.50,510.23 L218.05,510.13 L218.60,510.65 L219.02,511.33 L219.44,512.02 L219.86,512.36 L220.28,512.37 L220.70,512.37 L221.25,512.22 L221.80,512.06 L222.35,511.90 L222.90,512.20 L223.20,512.86 L223.50,513.51 L223.80,514.17 L224.10,514.83 L224.40,515.49 L224.70,516.15 L225.00,516.81 L225.42,517.33 L225.84,517.51 L226.26,517.58 L226.68,517.65 L227.10,517.72 L227.47,517.15 L227.85,517.10 L228.22,517.09 L228.60,517.08 L229.07,517.31 L229.53,516.83 L230.00,516.27 L230.14,516.74 L230.28,517.23 L230.42,517.71 L230.56,518.20 L230.70,518.69 L230.84,519.19 L230.98,519.70 L231.12,520.20 L231.26,520.72 L231.40,521.23 L231.77,521.48 L232.13,521.76 L232.50,522.20 L232.87,522.68 L233.23,523.14 L233.60,523.58 L233.80,524.11 L234.00,524.63 L234.20,525.14 L234.40,525.64 L234.60,526.14 L234.80,526.63 L235.00,527.11 L235.14,527.68 L235.28,528.26 L235.42,528.84 L235.56,529.42 L235.70,530.00 L235.73,530.58 L235.75,531.16 L235.78,531.75 L235.81,532.33 L235.84,532.91 L235.86,533.49 L235.89,534.07 L235.92,534.65 L235.95,535.24 L235.97,535.82 L236.00,536.40 L236.10,536.96 L236.20,537.51 L236.30,538.07 L236.40,538.62 L236.50,539.18 L236.60,539.73 L236.70,540.29 L236.80,540.84 L236.90,541.40 L237.07,541.90 L237.23,542.40 L237.40,542.90" fill="none" stroke="#2e2e2e" stroke-width="0.9" stroke-linejoin="round"/>
</svg>
</body></html>
